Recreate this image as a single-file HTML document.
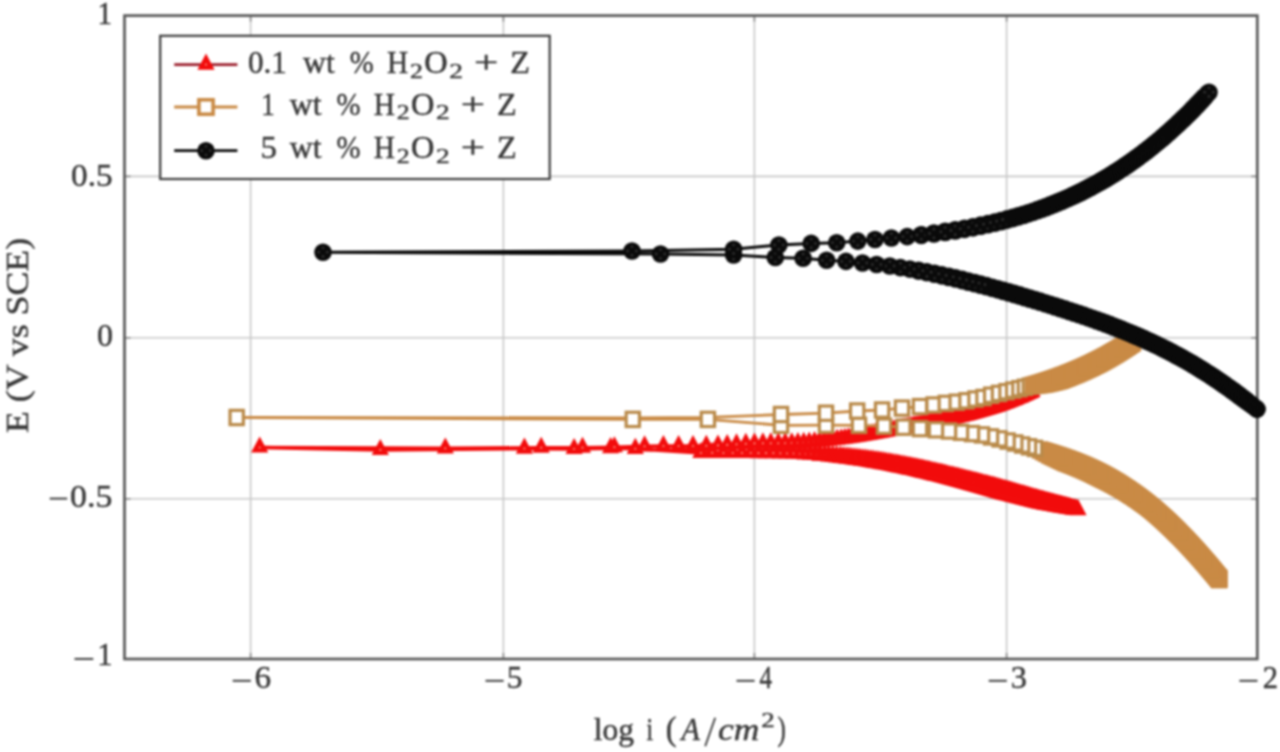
<!DOCTYPE html><html><head><meta charset="utf-8"><title>Polarization curves</title><style>html,body{margin:0;padding:0;background:#fff;overflow:hidden}svg{display:block;filter:blur(0.8px)}text{font-family:"Liberation Serif",serif;fill:#383838;stroke:#383838;stroke-width:0.45px}</style></head><body><svg width="1280" height="752" viewBox="0 0 1280 752"><defs><g id="tri"><path d="M0,-11L8.6,5.1L-8.6,5.1Z" fill="#f20c0c"/><circle r="1.1" fill="#ff8a7a"/></g><g id="sqf"><rect x="-6.65" y="-7.15" width="13.3" height="14.3" fill="#fff" stroke="#b98a4a" stroke-width="3.2"/></g><g id="sql"><rect x="-7.1" y="-7.2" width="14.2" height="14.4" fill="#fff" stroke="#c98a45" stroke-width="3.6"/></g><g id="tris"><path d="M0,-11L8.6,5.1L-8.6,5.1Z" fill="#f20c0c"/></g><g id="sqs"><rect x="-8.25" y="-8.75" width="16.5" height="17.5" fill="#c98a45"/></g><g id="cir"><circle r="8.8" fill="#0a0a0a"/><g fill="#303030"><circle cx="0" cy="-4.3" r="1.4"/><circle cx="0" cy="4.3" r="1.4"/><circle cx="-4.3" cy="0" r="1.4"/><circle cx="4.3" cy="0" r="1.4"/></g></g><g id="cird"><circle r="8.8" fill="#0a0a0a"/></g></defs><rect width="1280" height="752" fill="#fff"/><g stroke="#c8c8c8" stroke-width="1.6"><line x1="250.6" y1="15.6" x2="250.6" y2="659.0"/><line x1="503.4" y1="15.6" x2="503.4" y2="659.0"/><line x1="754.4" y1="15.6" x2="754.4" y2="659.0"/><line x1="1006.6" y1="15.6" x2="1006.6" y2="659.0"/><line x1="124.5" y1="176.4" x2="1257.3" y2="176.4"/><line x1="124.5" y1="337.8" x2="1257.3" y2="337.8"/><line x1="124.5" y1="498.8" x2="1257.3" y2="498.8"/></g><g stroke="#8a8a8a" stroke-width="1.6"><line x1="250.6" y1="659.0" x2="250.6" y2="653.0"/><line x1="250.6" y1="15.6" x2="250.6" y2="21.6"/><line x1="503.4" y1="659.0" x2="503.4" y2="653.0"/><line x1="503.4" y1="15.6" x2="503.4" y2="21.6"/><line x1="754.4" y1="659.0" x2="754.4" y2="653.0"/><line x1="754.4" y1="15.6" x2="754.4" y2="21.6"/><line x1="1006.6" y1="659.0" x2="1006.6" y2="653.0"/><line x1="1006.6" y1="15.6" x2="1006.6" y2="21.6"/><line x1="124.5" y1="176.4" x2="130.5" y2="176.4"/><line x1="1257.3" y1="176.4" x2="1251.3" y2="176.4"/><line x1="124.5" y1="337.8" x2="130.5" y2="337.8"/><line x1="1257.3" y1="337.8" x2="1251.3" y2="337.8"/><line x1="124.5" y1="498.8" x2="130.5" y2="498.8"/><line x1="1257.3" y1="498.8" x2="1251.3" y2="498.8"/></g><rect x="124.5" y="15.6" width="1132.8" height="643.4" fill="none" stroke="#585858" stroke-width="2.7"/><polyline points="1078.0,510.1 1077.2,510.0 1075.7,509.6 1074.2,509.3 1072.8,508.9 1071.3,508.6 1069.8,508.2 1068.3,507.9 1066.8,507.5 1065.3,507.1 1063.8,506.8 1062.3,506.4 1060.8,506.0 1059.3,505.7 1057.7,505.3 1056.2,504.9 1054.7,504.5 1053.1,504.1 1051.6,503.7 1050.1,503.3 1048.5,503.0 1047.0,502.6 1045.4,502.2 1043.8,501.8 1042.3,501.4 1040.7,501.0 1039.1,500.5 1037.5,500.1 1036.0,499.7 1034.4,499.3 1032.8,498.9 1031.2,498.5 1029.6,498.1 1028.0,497.6 1026.4,497.2 1024.7,496.8 1023.1,496.4 1021.5,495.9 1019.9,495.5 1018.2,495.1 1016.6,494.6 1014.9,494.2 1013.3,493.7 1011.6,493.3 1010.0,492.9 1008.3,492.4 1006.6,492.0 1005.0,491.5 1003.3,491.1 1001.6,490.6 999.9,490.2 998.2,489.7 996.5,489.3 994.8,488.8 993.1,488.4 991.4,487.9 989.7,487.5 987.9,487.0 986.2,486.6 984.5,486.1 982.7,485.6 981.0,485.2 979.2,484.7 977.5,484.3 975.7,483.8 973.9,483.3 972.1,482.9 970.4,482.4 968.6,482.0 966.8,481.5 965.0,481.0 963.2,480.6 961.4,480.1 959.5,479.7 957.7,479.2 955.9,478.7 954.0,478.3 952.2,477.8 950.3,477.4 948.5,476.9 946.6,476.5 944.8,476.0 942.9,475.6 941.0,475.1 939.1,474.7 937.2,474.2 935.3,473.8 933.4,473.3 931.5,472.9 929.6,472.4 927.7,472.0 925.7,471.6 923.8,471.1 921.9,470.7 919.9,470.3 918.0,469.9 916.0,469.4 914.0,469.0 911.9,468.6 909.8,468.2 907.7,467.7 905.6,467.3 903.4,466.9 901.2,466.4 899.0,466.0 896.7,465.6 894.4,465.2 892.1,464.7 889.7,464.3 887.3,463.9 884.9,463.5 882.4,463.1 879.9,462.6 877.4,462.2 874.8,461.8 872.2,461.4 869.5,461.0 866.8,460.6 864.1,460.2 861.3,459.8 858.5,459.5 855.6,459.1 852.7,458.7 849.8,458.3 846.8,458.0 843.6,457.6 840.3,457.3 836.7,456.9 832.9,456.5 828.9,456.1 824.7,455.7 820.1,455.4 815.4,455.0 810.3,454.6 804.9,454.3 799.2,454.0 793.2,453.7 786.9,453.5 780.2,453.3 773.3,453.1 766.0,453.1 758.4,453.2 750.7,453.0 742.0,453.0 732.7,453.0 723.4,453.0 712.2,452.8 700.9,453.0 635.3,448.8 610.6,448.1 574.1,449.0 524.4,448.6 380.3,449.9 259.7,447.5 445.3,448.4 541.2,447.7 582.5,447.7 614.4,447.2 644.6,446.3 663.4,446.0 678.6,446.0 693.0,446.0 706.3,445.8 718.0,445.4 727.2,444.9 736.5,444.3 745.8,443.8 754.5,443.4 762.9,443.3 770.8,443.3 778.3,443.3 785.2,443.3 791.8,443.2 797.9,443.0 803.7,442.8 809.2,442.5 814.5,442.1 819.5,441.7 824.3,441.2 828.8,440.7 833.1,440.2 837.2,439.7 841.2,439.2 844.9,438.7 848.4,438.2 851.8,437.6 855.0,437.1 858.1,436.7 861.0,436.2 863.9,435.7 866.8,435.2 869.7,434.7 872.5,434.2 875.2,433.7 878.0,433.2 880.7,432.7 883.3,432.2 886.0,431.7 888.6,431.2 891.1,430.7 893.7,430.2 896.2,429.8 898.6,429.3 901.1,428.8 903.5,428.3 905.9,427.9 908.2,427.4 910.6,427.0 912.9,426.5 915.2,426.1 917.4,425.7 919.6,425.2 921.8,424.8 924.0,424.4 926.1,424.0 928.2,423.6 930.3,423.2 932.4,422.8 934.4,422.4 936.4,422.0 938.4,421.6 940.4,421.2 942.3,420.8 944.3,420.4 946.2,420.0 948.1,419.6 950.0,419.1 951.9,418.7 953.8,418.3 955.7,417.9 957.6,417.5 959.4,417.0 961.3,416.6 963.1,416.2 964.9,415.7 966.7,415.3 968.5,414.8 970.3,414.4 972.1,413.9 973.9,413.4 975.7,413.0 977.4,412.5 979.2,412.0 980.9,411.5 982.6,411.0 984.3,410.5 986.0,410.0 987.7,409.5 989.4,409.0 991.0,408.5 992.7,407.9 994.3,407.4 996.0,406.8 997.6,406.3 999.2,405.7 1000.8,405.2 1002.4,404.6 1004.0,404.0 1005.6,403.4 1007.1,402.8 1008.7,402.2 1010.2,401.6 1011.7,401.0 1013.3,400.4 1014.8,399.8 1016.3,399.2 1017.8,398.5 1019.2,397.9 1020.7,397.3 1022.2,396.6 1023.6,395.9 1025.0,395.3 1026.5,394.6 1027.9,393.9 1029.3,393.3 1030.7,392.6 1032.0,391.9" fill="none" stroke="#f20c0c" stroke-width="3.6" stroke-linejoin="round" stroke-linecap="round"/><use href="#tris" x="815.4" y="454.8"/><use href="#tris" x="820.1" y="455.6"/><use href="#tris" x="820.1" y="455.1"/><use href="#tris" x="824.7" y="456.0"/><use href="#tris" x="824.7" y="455.4"/><use href="#tris" x="828.9" y="456.5"/><use href="#tris" x="828.9" y="455.7"/><use href="#tris" x="832.9" y="456.9"/><use href="#tris" x="832.9" y="456.0"/><use href="#tris" x="836.7" y="457.3"/><use href="#tris" x="836.7" y="456.3"/><use href="#tris" x="840.3" y="457.8"/><use href="#tris" x="840.3" y="456.6"/><use href="#tris" x="843.6" y="458.2"/><use href="#tris" x="843.6" y="457.0"/><use href="#tris" x="846.8" y="458.6"/><use href="#tris" x="846.8" y="457.3"/><use href="#tris" x="849.8" y="459.0"/><use href="#tris" x="849.8" y="457.6"/><use href="#tris" x="852.7" y="459.4"/><use href="#tris" x="852.7" y="457.9"/><use href="#tris" x="855.6" y="459.8"/><use href="#tris" x="855.6" y="458.2"/><use href="#tris" x="858.5" y="460.2"/><use href="#tris" x="858.5" y="458.6"/><use href="#tris" x="861.3" y="460.6"/><use href="#tris" x="861.3" y="458.9"/><use href="#tris" x="864.1" y="461.0"/><use href="#tris" x="864.1" y="459.3"/><use href="#tris" x="866.8" y="461.5"/><use href="#tris" x="866.8" y="459.6"/><use href="#tris" x="869.5" y="461.9"/><use href="#tris" x="869.5" y="460.0"/><use href="#tris" x="872.2" y="462.3"/><use href="#tris" x="872.2" y="460.3"/><use href="#tris" x="874.8" y="462.8"/><use href="#tris" x="874.8" y="460.7"/><use href="#tris" x="877.4" y="463.2"/><use href="#tris" x="877.4" y="461.1"/><use href="#tris" x="879.9" y="463.6"/><use href="#tris" x="879.9" y="461.4"/><use href="#tris" x="882.4" y="464.1"/><use href="#tris" x="882.4" y="461.8"/><use href="#tris" x="884.9" y="464.5"/><use href="#tris" x="884.9" y="462.2"/><use href="#tris" x="887.3" y="465.0"/><use href="#tris" x="887.3" y="462.7"/><use href="#tris" x="889.7" y="465.4"/><use href="#tris" x="889.7" y="463.1"/><use href="#tris" x="892.1" y="465.9"/><use href="#tris" x="892.1" y="463.5"/><use href="#tris" x="894.4" y="466.4"/><use href="#tris" x="894.4" y="463.9"/><use href="#tris" x="896.7" y="466.8"/><use href="#tris" x="896.7" y="464.3"/><use href="#tris" x="899.0" y="467.3"/><use href="#tris" x="899.0" y="464.7"/><use href="#tris" x="901.2" y="467.7"/><use href="#tris" x="901.2" y="465.2"/><use href="#tris" x="903.4" y="468.2"/><use href="#tris" x="903.4" y="465.6"/><use href="#tris" x="905.6" y="468.7"/><use href="#tris" x="905.6" y="466.0"/><use href="#tris" x="907.7" y="469.1"/><use href="#tris" x="907.7" y="466.4"/><use href="#tris" x="909.8" y="469.6"/><use href="#tris" x="909.8" y="466.8"/><use href="#tris" x="911.9" y="470.0"/><use href="#tris" x="911.9" y="467.2"/><use href="#tris" x="914.0" y="470.5"/><use href="#tris" x="914.0" y="467.7"/><use href="#tris" x="916.0" y="471.0"/><use href="#tris" x="916.0" y="468.1"/><use href="#tris" x="918.0" y="471.4"/><use href="#tris" x="918.0" y="468.5"/><use href="#tris" x="919.9" y="471.9"/><use href="#tris" x="919.9" y="468.9"/><use href="#tris" x="921.9" y="472.3"/><use href="#tris" x="921.9" y="469.3"/><use href="#tris" x="923.8" y="472.8"/><use href="#tris" x="923.8" y="469.8"/><use href="#tris" x="925.7" y="473.2"/><use href="#tris" x="925.7" y="470.2"/><use href="#tris" x="927.7" y="473.7"/><use href="#tris" x="927.7" y="470.6"/><use href="#tris" x="929.6" y="474.2"/><use href="#tris" x="929.6" y="471.0"/><use href="#tris" x="931.5" y="474.6"/><use href="#tris" x="931.5" y="471.5"/><use href="#tris" x="933.4" y="475.1"/><use href="#tris" x="933.4" y="471.9"/><use href="#tris" x="935.3" y="475.6"/><use href="#tris" x="935.3" y="472.3"/><use href="#tris" x="937.2" y="476.0"/><use href="#tris" x="937.2" y="472.8"/><use href="#tris" x="939.1" y="476.5"/><use href="#tris" x="939.1" y="473.2"/><use href="#tris" x="941.0" y="477.0"/><use href="#tris" x="941.0" y="473.6"/><use href="#tris" x="942.9" y="477.5"/><use href="#tris" x="942.9" y="474.1"/><use href="#tris" x="944.8" y="477.9"/><use href="#tris" x="944.8" y="474.5"/><use href="#tris" x="946.6" y="478.4"/><use href="#tris" x="946.6" y="475.0"/><use href="#tris" x="948.5" y="478.9"/><use href="#tris" x="948.5" y="475.4"/><use href="#tris" x="950.3" y="479.4"/><use href="#tris" x="950.3" y="475.9"/><use href="#tris" x="952.2" y="479.9"/><use href="#tris" x="952.2" y="476.3"/><use href="#tris" x="954.0" y="480.4"/><use href="#tris" x="954.0" y="476.8"/><use href="#tris" x="955.9" y="480.9"/><use href="#tris" x="955.9" y="477.2"/><use href="#tris" x="957.7" y="481.4"/><use href="#tris" x="957.7" y="477.6"/><use href="#tris" x="959.5" y="481.9"/><use href="#tris" x="959.5" y="478.1"/><use href="#tris" x="961.4" y="482.4"/><use href="#tris" x="961.4" y="478.5"/><use href="#tris" x="963.2" y="482.9"/><use href="#tris" x="963.2" y="479.0"/><use href="#tris" x="965.0" y="483.4"/><use href="#tris" x="965.0" y="479.4"/><use href="#tris" x="966.8" y="483.9"/><use href="#tris" x="966.8" y="479.9"/><use href="#tris" x="968.6" y="484.4"/><use href="#tris" x="968.6" y="480.3"/><use href="#tris" x="970.4" y="484.9"/><use href="#tris" x="970.4" y="480.8"/><use href="#tris" x="972.1" y="485.4"/><use href="#tris" x="972.1" y="481.2"/><use href="#tris" x="973.9" y="485.9"/><use href="#tris" x="973.9" y="481.7"/><use href="#tris" x="975.7" y="486.4"/><use href="#tris" x="975.7" y="482.1"/><use href="#tris" x="977.5" y="486.9"/><use href="#tris" x="977.5" y="482.6"/><use href="#tris" x="979.2" y="487.4"/><use href="#tris" x="979.2" y="483.0"/><use href="#tris" x="981.0" y="487.9"/><use href="#tris" x="981.0" y="483.5"/><use href="#tris" x="982.7" y="488.4"/><use href="#tris" x="982.7" y="483.9"/><use href="#tris" x="984.5" y="488.9"/><use href="#tris" x="984.5" y="484.4"/><use href="#tris" x="986.2" y="489.4"/><use href="#tris" x="986.2" y="484.8"/><use href="#tris" x="987.9" y="489.9"/><use href="#tris" x="987.9" y="485.3"/><use href="#tris" x="989.7" y="490.4"/><use href="#tris" x="989.7" y="485.7"/><use href="#tris" x="991.4" y="490.9"/><use href="#tris" x="991.4" y="486.2"/><use href="#tris" x="993.1" y="491.4"/><use href="#tris" x="993.1" y="486.6"/><use href="#tris" x="994.8" y="491.9"/><use href="#tris" x="994.8" y="487.1"/><use href="#tris" x="996.5" y="492.4"/><use href="#tris" x="996.5" y="487.5"/><use href="#tris" x="998.2" y="492.9"/><use href="#tris" x="998.2" y="487.9"/><use href="#tris" x="999.9" y="493.4"/><use href="#tris" x="999.9" y="488.4"/><use href="#tris" x="1001.6" y="493.8"/><use href="#tris" x="1001.6" y="488.9"/><use href="#tris" x="1003.3" y="494.3"/><use href="#tris" x="1003.3" y="489.4"/><use href="#tris" x="1005.0" y="494.7"/><use href="#tris" x="1005.0" y="489.9"/><use href="#tris" x="1006.6" y="495.1"/><use href="#tris" x="1006.6" y="490.3"/><use href="#tris" x="1008.3" y="495.5"/><use href="#tris" x="1008.3" y="490.8"/><use href="#tris" x="1010.0" y="496.0"/><use href="#tris" x="1010.0" y="491.3"/><use href="#tris" x="1011.6" y="496.4"/><use href="#tris" x="1011.6" y="491.8"/><use href="#tris" x="1013.3" y="496.8"/><use href="#tris" x="1013.3" y="492.3"/><use href="#tris" x="1014.9" y="497.2"/><use href="#tris" x="1014.9" y="492.8"/><use href="#tris" x="1016.6" y="497.7"/><use href="#tris" x="1016.6" y="493.2"/><use href="#tris" x="1018.2" y="498.1"/><use href="#tris" x="1018.2" y="493.7"/><use href="#tris" x="1019.9" y="498.5"/><use href="#tris" x="1019.9" y="494.2"/><use href="#tris" x="1021.5" y="498.9"/><use href="#tris" x="1021.5" y="494.7"/><use href="#tris" x="1023.1" y="499.3"/><use href="#tris" x="1023.1" y="495.1"/><use href="#tris" x="1024.7" y="499.7"/><use href="#tris" x="1024.7" y="495.6"/><use href="#tris" x="1026.4" y="500.1"/><use href="#tris" x="1026.4" y="496.1"/><use href="#tris" x="1028.0" y="500.6"/><use href="#tris" x="1028.0" y="496.5"/><use href="#tris" x="1029.6" y="501.0"/><use href="#tris" x="1029.6" y="497.0"/><use href="#tris" x="1031.2" y="501.4"/><use href="#tris" x="1031.2" y="497.5"/><use href="#tris" x="1032.8" y="501.8"/><use href="#tris" x="1032.8" y="497.9"/><use href="#tris" x="1034.4" y="502.2"/><use href="#tris" x="1034.4" y="498.4"/><use href="#tris" x="1036.0" y="502.6"/><use href="#tris" x="1036.0" y="498.8"/><use href="#tris" x="1037.5" y="503.0"/><use href="#tris" x="1037.5" y="499.3"/><use href="#tris" x="1039.1" y="503.4"/><use href="#tris" x="1039.1" y="499.7"/><use href="#tris" x="1040.7" y="503.7"/><use href="#tris" x="1040.7" y="500.2"/><use href="#tris" x="1042.3" y="504.0"/><use href="#tris" x="1042.3" y="500.6"/><use href="#tris" x="1043.8" y="504.3"/><use href="#tris" x="1043.8" y="501.0"/><use href="#tris" x="1045.4" y="504.6"/><use href="#tris" x="1045.4" y="501.5"/><use href="#tris" x="1047.0" y="504.9"/><use href="#tris" x="1047.0" y="501.9"/><use href="#tris" x="1048.5" y="505.1"/><use href="#tris" x="1048.5" y="502.3"/><use href="#tris" x="1050.1" y="505.4"/><use href="#tris" x="1050.1" y="502.7"/><use href="#tris" x="1051.6" y="505.7"/><use href="#tris" x="1051.6" y="503.2"/><use href="#tris" x="1053.1" y="506.0"/><use href="#tris" x="1053.1" y="503.6"/><use href="#tris" x="1054.7" y="506.3"/><use href="#tris" x="1054.7" y="504.0"/><use href="#tris" x="1056.2" y="506.5"/><use href="#tris" x="1056.2" y="504.4"/><use href="#tris" x="1057.7" y="506.8"/><use href="#tris" x="1057.7" y="504.8"/><use href="#tris" x="1059.3" y="507.1"/><use href="#tris" x="1059.3" y="505.2"/><use href="#tris" x="1060.8" y="507.3"/><use href="#tris" x="1060.8" y="505.6"/><use href="#tris" x="1062.3" y="507.6"/><use href="#tris" x="1062.3" y="506.0"/><use href="#tris" x="1063.8" y="507.9"/><use href="#tris" x="1063.8" y="506.4"/><use href="#tris" x="1065.3" y="508.1"/><use href="#tris" x="1065.3" y="506.8"/><use href="#tris" x="1066.8" y="508.4"/><use href="#tris" x="1066.8" y="507.2"/><use href="#tris" x="1068.3" y="508.6"/><use href="#tris" x="1068.3" y="507.6"/><use href="#tris" x="1069.8" y="508.9"/><use href="#tris" x="1069.8" y="508.0"/><use href="#tris" x="1071.3" y="509.1"/><use href="#tris" x="1072.8" y="509.4"/><use href="#tris" x="1074.2" y="509.7"/><use href="#tris" x="1075.7" y="509.9"/><use href="#tri" x="1078.0" y="510.1"/><use href="#tri" x="1077.2" y="510.0"/><use href="#tri" x="1075.7" y="509.6"/><use href="#tri" x="1074.2" y="509.3"/><use href="#tri" x="1072.8" y="508.9"/><use href="#tri" x="1071.3" y="508.6"/><use href="#tri" x="1069.8" y="508.2"/><use href="#tri" x="1068.3" y="507.9"/><use href="#tri" x="1066.8" y="507.5"/><use href="#tri" x="1065.3" y="507.1"/><use href="#tri" x="1063.8" y="506.8"/><use href="#tri" x="1062.3" y="506.4"/><use href="#tri" x="1060.8" y="506.0"/><use href="#tri" x="1059.3" y="505.7"/><use href="#tri" x="1057.7" y="505.3"/><use href="#tri" x="1056.2" y="504.9"/><use href="#tri" x="1054.7" y="504.5"/><use href="#tri" x="1053.1" y="504.1"/><use href="#tri" x="1051.6" y="503.7"/><use href="#tri" x="1050.1" y="503.3"/><use href="#tri" x="1048.5" y="503.0"/><use href="#tri" x="1047.0" y="502.6"/><use href="#tri" x="1045.4" y="502.2"/><use href="#tri" x="1043.8" y="501.8"/><use href="#tri" x="1042.3" y="501.4"/><use href="#tri" x="1040.7" y="501.0"/><use href="#tri" x="1039.1" y="500.5"/><use href="#tri" x="1037.5" y="500.1"/><use href="#tri" x="1036.0" y="499.7"/><use href="#tri" x="1034.4" y="499.3"/><use href="#tri" x="1032.8" y="498.9"/><use href="#tri" x="1031.2" y="498.5"/><use href="#tri" x="1029.6" y="498.1"/><use href="#tri" x="1028.0" y="497.6"/><use href="#tri" x="1026.4" y="497.2"/><use href="#tri" x="1024.7" y="496.8"/><use href="#tri" x="1023.1" y="496.4"/><use href="#tri" x="1021.5" y="495.9"/><use href="#tri" x="1019.9" y="495.5"/><use href="#tri" x="1018.2" y="495.1"/><use href="#tri" x="1016.6" y="494.6"/><use href="#tri" x="1014.9" y="494.2"/><use href="#tri" x="1013.3" y="493.7"/><use href="#tri" x="1011.6" y="493.3"/><use href="#tri" x="1010.0" y="492.9"/><use href="#tri" x="1008.3" y="492.4"/><use href="#tri" x="1006.6" y="492.0"/><use href="#tri" x="1005.0" y="491.5"/><use href="#tri" x="1003.3" y="491.1"/><use href="#tri" x="1001.6" y="490.6"/><use href="#tri" x="999.9" y="490.2"/><use href="#tri" x="998.2" y="489.7"/><use href="#tri" x="996.5" y="489.3"/><use href="#tri" x="994.8" y="488.8"/><use href="#tri" x="993.1" y="488.4"/><use href="#tri" x="991.4" y="487.9"/><use href="#tri" x="989.7" y="487.5"/><use href="#tri" x="987.9" y="487.0"/><use href="#tri" x="986.2" y="486.6"/><use href="#tri" x="984.5" y="486.1"/><use href="#tri" x="982.7" y="485.6"/><use href="#tri" x="981.0" y="485.2"/><use href="#tri" x="979.2" y="484.7"/><use href="#tri" x="977.5" y="484.3"/><use href="#tri" x="975.7" y="483.8"/><use href="#tri" x="973.9" y="483.3"/><use href="#tri" x="972.1" y="482.9"/><use href="#tri" x="970.4" y="482.4"/><use href="#tri" x="968.6" y="482.0"/><use href="#tri" x="966.8" y="481.5"/><use href="#tri" x="965.0" y="481.0"/><use href="#tri" x="963.2" y="480.6"/><use href="#tri" x="961.4" y="480.1"/><use href="#tri" x="959.5" y="479.7"/><use href="#tri" x="957.7" y="479.2"/><use href="#tri" x="955.9" y="478.7"/><use href="#tri" x="954.0" y="478.3"/><use href="#tri" x="952.2" y="477.8"/><use href="#tri" x="950.3" y="477.4"/><use href="#tri" x="948.5" y="476.9"/><use href="#tri" x="946.6" y="476.5"/><use href="#tri" x="944.8" y="476.0"/><use href="#tri" x="942.9" y="475.6"/><use href="#tri" x="941.0" y="475.1"/><use href="#tri" x="939.1" y="474.7"/><use href="#tri" x="937.2" y="474.2"/><use href="#tri" x="935.3" y="473.8"/><use href="#tri" x="933.4" y="473.3"/><use href="#tri" x="931.5" y="472.9"/><use href="#tri" x="929.6" y="472.4"/><use href="#tri" x="927.7" y="472.0"/><use href="#tri" x="925.7" y="471.6"/><use href="#tri" x="923.8" y="471.1"/><use href="#tri" x="921.9" y="470.7"/><use href="#tri" x="919.9" y="470.3"/><use href="#tri" x="918.0" y="469.9"/><use href="#tri" x="916.0" y="469.4"/><use href="#tri" x="914.0" y="469.0"/><use href="#tri" x="911.9" y="468.6"/><use href="#tri" x="909.8" y="468.2"/><use href="#tri" x="907.7" y="467.7"/><use href="#tri" x="905.6" y="467.3"/><use href="#tri" x="903.4" y="466.9"/><use href="#tri" x="901.2" y="466.4"/><use href="#tri" x="899.0" y="466.0"/><use href="#tri" x="896.7" y="465.6"/><use href="#tri" x="894.4" y="465.2"/><use href="#tri" x="892.1" y="464.7"/><use href="#tri" x="889.7" y="464.3"/><use href="#tri" x="887.3" y="463.9"/><use href="#tri" x="884.9" y="463.5"/><use href="#tri" x="882.4" y="463.1"/><use href="#tri" x="879.9" y="462.6"/><use href="#tri" x="877.4" y="462.2"/><use href="#tri" x="874.8" y="461.8"/><use href="#tri" x="872.2" y="461.4"/><use href="#tri" x="869.5" y="461.0"/><use href="#tri" x="866.8" y="460.6"/><use href="#tri" x="864.1" y="460.2"/><use href="#tri" x="861.3" y="459.8"/><use href="#tri" x="858.5" y="459.5"/><use href="#tri" x="855.6" y="459.1"/><use href="#tri" x="852.7" y="458.7"/><use href="#tri" x="849.8" y="458.3"/><use href="#tri" x="846.8" y="458.0"/><use href="#tri" x="843.6" y="457.6"/><use href="#tri" x="840.3" y="457.3"/><use href="#tri" x="836.7" y="456.9"/><use href="#tri" x="832.9" y="456.5"/><use href="#tri" x="828.9" y="456.1"/><use href="#tri" x="824.7" y="455.7"/><use href="#tri" x="820.1" y="455.4"/><use href="#tri" x="815.4" y="455.0"/><use href="#tri" x="810.3" y="454.6"/><use href="#tri" x="804.9" y="454.3"/><use href="#tri" x="799.2" y="454.0"/><use href="#tri" x="793.2" y="453.7"/><use href="#tri" x="786.9" y="453.5"/><use href="#tri" x="780.2" y="453.3"/><use href="#tri" x="773.3" y="453.1"/><use href="#tri" x="766.0" y="453.1"/><use href="#tri" x="758.4" y="453.2"/><use href="#tri" x="750.7" y="453.0"/><use href="#tri" x="742.0" y="453.0"/><use href="#tri" x="732.7" y="453.0"/><use href="#tri" x="723.4" y="453.0"/><use href="#tri" x="712.2" y="452.8"/><use href="#tri" x="700.9" y="453.0"/><use href="#tri" x="635.3" y="448.8"/><use href="#tri" x="610.6" y="448.1"/><use href="#tri" x="574.1" y="449.0"/><use href="#tri" x="524.4" y="448.6"/><use href="#tri" x="380.3" y="449.9"/><use href="#tri" x="259.7" y="447.5"/><use href="#tri" x="445.3" y="448.4"/><use href="#tri" x="541.2" y="447.7"/><use href="#tri" x="582.5" y="447.7"/><use href="#tri" x="614.4" y="447.2"/><use href="#tri" x="644.6" y="446.3"/><use href="#tri" x="663.4" y="446.0"/><use href="#tri" x="678.6" y="446.0"/><use href="#tri" x="693.0" y="446.0"/><use href="#tri" x="706.3" y="445.8"/><use href="#tri" x="718.0" y="445.4"/><use href="#tri" x="727.2" y="444.9"/><use href="#tri" x="736.5" y="444.3"/><use href="#tri" x="745.8" y="443.8"/><use href="#tri" x="754.5" y="443.4"/><use href="#tri" x="762.9" y="443.3"/><use href="#tri" x="770.8" y="443.3"/><use href="#tri" x="778.3" y="443.3"/><use href="#tri" x="785.2" y="443.3"/><use href="#tri" x="791.8" y="443.2"/><use href="#tri" x="797.9" y="443.0"/><use href="#tri" x="803.7" y="442.8"/><use href="#tri" x="809.2" y="442.5"/><use href="#tri" x="814.5" y="442.1"/><use href="#tri" x="819.5" y="441.7"/><use href="#tri" x="824.3" y="441.2"/><use href="#tri" x="828.8" y="440.7"/><use href="#tri" x="833.1" y="440.2"/><use href="#tri" x="837.2" y="439.7"/><use href="#tri" x="841.2" y="439.2"/><use href="#tri" x="844.9" y="438.7"/><use href="#tri" x="848.4" y="438.2"/><use href="#tri" x="851.8" y="437.6"/><use href="#tri" x="855.0" y="437.1"/><use href="#tri" x="858.1" y="436.7"/><use href="#tri" x="861.0" y="436.2"/><use href="#tri" x="863.9" y="435.7"/><use href="#tri" x="866.8" y="435.2"/><use href="#tri" x="869.7" y="434.7"/><use href="#tri" x="872.5" y="434.2"/><use href="#tri" x="875.2" y="433.7"/><use href="#tri" x="878.0" y="433.2"/><use href="#tri" x="880.7" y="432.7"/><use href="#tri" x="883.3" y="432.2"/><use href="#tri" x="886.0" y="431.7"/><use href="#tri" x="888.6" y="431.2"/><use href="#tri" x="891.1" y="430.7"/><use href="#tri" x="893.7" y="430.2"/><use href="#tri" x="896.2" y="429.8"/><use href="#tri" x="898.6" y="429.3"/><use href="#tri" x="901.1" y="428.8"/><use href="#tri" x="903.5" y="428.3"/><use href="#tri" x="905.9" y="427.9"/><use href="#tri" x="908.2" y="427.4"/><use href="#tri" x="910.6" y="427.0"/><use href="#tri" x="912.9" y="426.5"/><use href="#tri" x="915.2" y="426.1"/><use href="#tri" x="917.4" y="425.7"/><use href="#tri" x="919.6" y="425.2"/><use href="#tri" x="921.8" y="424.8"/><use href="#tri" x="924.0" y="424.4"/><use href="#tri" x="926.1" y="424.0"/><use href="#tri" x="928.2" y="423.6"/><use href="#tri" x="930.3" y="423.2"/><use href="#tri" x="932.4" y="422.8"/><use href="#tri" x="934.4" y="422.4"/><use href="#tri" x="936.4" y="422.0"/><use href="#tri" x="938.4" y="421.6"/><use href="#tri" x="940.4" y="421.2"/><use href="#tri" x="942.3" y="420.8"/><use href="#tri" x="944.3" y="420.4"/><use href="#tri" x="946.2" y="420.0"/><use href="#tri" x="948.1" y="419.6"/><use href="#tri" x="950.0" y="419.1"/><use href="#tri" x="951.9" y="418.7"/><use href="#tri" x="953.8" y="418.3"/><use href="#tri" x="955.7" y="417.9"/><use href="#tri" x="957.6" y="417.5"/><use href="#tri" x="959.4" y="417.0"/><use href="#tri" x="961.3" y="416.6"/><use href="#tri" x="963.1" y="416.2"/><use href="#tri" x="964.9" y="415.7"/><use href="#tri" x="966.7" y="415.3"/><use href="#tri" x="968.5" y="414.8"/><use href="#tri" x="970.3" y="414.4"/><use href="#tri" x="972.1" y="413.9"/><use href="#tri" x="973.9" y="413.4"/><use href="#tri" x="975.7" y="413.0"/><use href="#tri" x="977.4" y="412.5"/><use href="#tri" x="979.2" y="412.0"/><use href="#tri" x="980.9" y="411.5"/><use href="#tri" x="982.6" y="411.0"/><use href="#tri" x="984.3" y="410.5"/><use href="#tri" x="986.0" y="410.0"/><use href="#tri" x="987.7" y="409.5"/><use href="#tri" x="989.4" y="409.0"/><use href="#tri" x="991.0" y="408.5"/><use href="#tri" x="992.7" y="407.9"/><use href="#tri" x="994.3" y="407.4"/><use href="#tri" x="996.0" y="406.8"/><use href="#tri" x="997.6" y="406.3"/><use href="#tri" x="999.2" y="405.7"/><use href="#tri" x="1000.8" y="405.2"/><use href="#tri" x="1002.4" y="404.6"/><use href="#tri" x="1004.0" y="404.0"/><use href="#tri" x="1005.6" y="403.4"/><use href="#tri" x="1007.1" y="402.8"/><use href="#tri" x="1008.7" y="402.2"/><use href="#tri" x="1010.2" y="401.6"/><use href="#tri" x="1011.7" y="401.0"/><use href="#tri" x="1013.3" y="400.4"/><use href="#tri" x="1014.8" y="399.8"/><use href="#tri" x="1016.3" y="399.2"/><use href="#tri" x="1017.8" y="398.5"/><use href="#tri" x="1019.2" y="397.9"/><use href="#tri" x="1020.7" y="397.3"/><use href="#tri" x="1022.2" y="396.6"/><use href="#tri" x="1023.6" y="395.9"/><use href="#tri" x="1025.0" y="395.3"/><use href="#tri" x="1026.5" y="394.6"/><use href="#tri" x="1027.9" y="393.9"/><use href="#tri" x="1029.3" y="393.3"/><use href="#tri" x="1030.7" y="392.6"/><use href="#tri" x="1032.0" y="391.9"/><polyline points="1219.3,578.6 1219.0,578.3 1218.3,577.4 1217.5,576.5 1216.8,575.6 1216.1,574.7 1215.3,573.8 1214.6,572.9 1213.8,572.0 1213.1,571.0 1212.3,570.1 1211.5,569.2 1210.8,568.3 1210.0,567.4 1209.3,566.5 1208.5,565.6 1207.7,564.7 1207.0,563.8 1206.2,562.9 1205.4,562.0 1204.6,561.1 1203.8,560.2 1203.0,559.3 1202.3,558.4 1201.5,557.5 1200.7,556.6 1199.9,555.7 1199.1,554.8 1198.3,553.9 1197.5,552.9 1196.7,552.0 1195.8,551.1 1195.0,550.2 1194.2,549.3 1193.4,548.4 1192.6,547.5 1191.7,546.6 1190.9,545.7 1190.1,544.8 1189.2,543.9 1188.4,543.0 1187.5,542.1 1186.7,541.2 1185.8,540.3 1185.0,539.4 1184.1,538.5 1183.2,537.6 1182.4,536.7 1181.5,535.8 1180.6,534.9 1179.7,534.0 1178.8,533.1 1177.9,532.1 1177.0,531.2 1176.1,530.3 1175.2,529.4 1174.3,528.5 1173.4,527.6 1172.5,526.7 1171.5,525.8 1170.6,524.9 1169.7,524.0 1168.7,523.1 1167.8,522.2 1166.8,521.3 1165.8,520.4 1164.9,519.5 1163.9,518.6 1162.9,517.7 1161.9,516.8 1160.9,515.9 1159.9,515.0 1158.9,514.1 1157.8,513.2 1156.8,512.2 1155.7,511.3 1154.7,510.4 1153.6,509.5 1152.6,508.6 1151.5,507.7 1150.4,506.8 1149.3,505.9 1148.2,505.0 1147.1,504.1 1146.0,503.2 1144.8,502.3 1143.7,501.4 1142.5,500.5 1141.3,499.6 1140.2,498.7 1139.0,497.8 1137.8,496.9 1136.5,496.0 1135.3,495.1 1134.1,494.2 1132.8,493.3 1131.5,492.4 1130.2,491.5 1128.9,490.6 1127.6,489.7 1126.3,488.8 1124.9,487.9 1123.5,487.0 1122.2,486.1 1120.8,485.2 1119.3,484.2 1117.9,483.3 1116.4,482.4 1115.0,481.5 1113.4,480.6 1111.9,479.7 1110.4,478.8 1108.8,477.9 1107.2,477.0 1105.6,476.1 1103.9,475.2 1102.3,474.3 1100.6,473.4 1098.8,472.5 1097.0,471.6 1095.2,470.7 1093.4,469.8 1091.5,468.9 1089.6,468.0 1087.6,467.1 1085.6,466.2 1083.6,465.3 1081.5,464.4 1079.3,463.5 1077.1,462.6 1074.9,461.7 1072.6,460.8 1070.2,459.9 1067.8,459.0 1065.3,458.1 1062.8,457.2 1060.2,456.3 1057.6,455.4 1054.8,454.5 1052.0,453.6 1049.2,452.7 1046.2,451.8 1043.3,450.9 1040.2,450.0 1035.0,448.4 1029.0,446.8 1022.2,445.0 1015.3,443.0 1007.6,441.0 999.5,438.9 991.0,436.9 982.0,434.9 972.0,433.6 961.0,432.3 949.0,431.0 936.0,429.8 920.0,428.6 903.4,427.2 884.0,426.2 859.0,425.3 826.0,425.2 781.0,425.3 707.9,419.4 632.8,419.4 236.7,417.5 632.8,417.9 707.9,417.4 781.0,414.5 826.0,413.2 857.2,411.0 882.1,410.0 902.0,408.1 920.0,406.6 933.6,405.0 945.8,403.4 956.7,402.2 966.5,400.8 975.5,399.0 983.5,397.5 991.2,395.2 999.0,393.4 1006.5,391.7 1013.2,390.1 1019.4,388.7 1024.9,387.3 1029.8,386.1 1033.1,385.2 1036.2,384.3 1039.3,383.4 1042.3,382.5 1045.2,381.6 1048.0,380.7 1050.8,379.8 1053.5,378.9 1056.1,378.0 1058.7,377.1 1061.2,376.2 1063.6,375.3 1066.1,374.4 1068.4,373.5 1070.7,372.6 1073.0,371.7 1075.2,370.8 1077.4,369.9 1079.5,369.0 1081.6,368.1 1083.7,367.2 1085.7,366.3 1087.7,365.4 1089.6,364.5 1091.6,363.6 1093.4,362.7 1095.3,361.8 1097.1,360.9 1099.0,360.0 1100.7,359.1 1102.5,358.2 1104.2,357.3 1105.9,356.4 1107.6,355.5 1109.3,354.6 1110.9,353.6 1112.5,352.7 1114.1,351.8 1115.7,350.9 1117.3,350.0 1118.8,349.1 1120.3,348.2 1121.8,347.3 1123.3,346.4 1124.8,345.5 1126.3,344.6 1127.7,343.7 1129.1,342.8 1130.5,341.9 1131.9,341.0 1133.0,340.3" fill="none" stroke="#c98a45" stroke-width="2.8" stroke-linejoin="round" stroke-linecap="round"/><use href="#sqs" x="1043.3" y="451.7"/><use href="#sqs" x="1046.2" y="453.3"/><use href="#sqs" x="1049.2" y="455.0"/><use href="#sqs" x="1052.0" y="456.4"/><use href="#sqs" x="1054.8" y="457.7"/><use href="#sqs" x="1057.6" y="459.0"/><use href="#sqs" x="1060.2" y="460.2"/><use href="#sqs" x="1062.8" y="461.5"/><use href="#sqs" x="1065.3" y="462.6"/><use href="#sqs" x="1067.8" y="463.5"/><use href="#sqs" x="1070.2" y="464.4"/><use href="#sqs" x="1072.6" y="465.3"/><use href="#sqs" x="1074.9" y="466.2"/><use href="#sqs" x="1077.1" y="467.1"/><use href="#sqs" x="1079.3" y="468.0"/><use href="#sqs" x="1081.5" y="468.9"/><use href="#sqs" x="1083.6" y="469.8"/><use href="#sqs" x="1085.6" y="470.7"/><use href="#sqs" x="1087.6" y="471.6"/><use href="#sqs" x="1089.6" y="472.5"/><use href="#sqs" x="1091.5" y="473.4"/><use href="#sqs" x="1093.4" y="474.3"/><use href="#sqs" x="1095.2" y="475.2"/><use href="#sqs" x="1097.0" y="476.1"/><use href="#sqs" x="1098.8" y="477.0"/><use href="#sqs" x="1100.6" y="477.9"/><use href="#sqs" x="1102.3" y="478.7"/><use href="#sqs" x="1103.9" y="479.5"/><use href="#sqs" x="1105.6" y="480.3"/><use href="#sqs" x="1107.2" y="481.1"/><use href="#sqs" x="1108.8" y="481.9"/><use href="#sqs" x="1110.4" y="482.7"/><use href="#sqs" x="1111.9" y="483.5"/><use href="#sqs" x="1113.4" y="484.3"/><use href="#sqs" x="1115.0" y="485.1"/><use href="#sqs" x="1116.4" y="486.0"/><use href="#sqs" x="1117.9" y="486.8"/><use href="#sqs" x="1119.3" y="487.6"/><use href="#sqs" x="1120.8" y="488.4"/><use href="#sqs" x="1122.2" y="489.2"/><use href="#sqs" x="1123.5" y="490.0"/><use href="#sqs" x="1124.9" y="490.9"/><use href="#sqs" x="1126.3" y="491.7"/><use href="#sqs" x="1127.6" y="492.5"/><use href="#sqs" x="1128.9" y="493.3"/><use href="#sqs" x="1130.2" y="494.2"/><use href="#sqs" x="1131.5" y="495.0"/><use href="#sqs" x="1132.8" y="495.8"/><use href="#sqs" x="1134.1" y="496.6"/><use href="#sqs" x="1135.3" y="497.5"/><use href="#sqs" x="1136.5" y="498.3"/><use href="#sqs" x="1137.8" y="499.1"/><use href="#sqs" x="1139.0" y="500.0"/><use href="#sqs" x="1140.2" y="500.8"/><use href="#sqs" x="1141.3" y="501.6"/><use href="#sqs" x="1142.5" y="502.5"/><use href="#sqs" x="1143.7" y="503.3"/><use href="#sqs" x="1144.8" y="504.1"/><use href="#sqs" x="1146.0" y="505.0"/><use href="#sqs" x="1147.1" y="505.8"/><use href="#sqs" x="1148.2" y="506.6"/><use href="#sqs" x="1149.3" y="507.5"/><use href="#sqs" x="1150.4" y="508.3"/><use href="#sqs" x="1151.5" y="509.2"/><use href="#sqs" x="1152.6" y="510.1"/><use href="#sqs" x="1153.6" y="511.0"/><use href="#sqs" x="1154.7" y="511.9"/><use href="#sqs" x="1155.7" y="512.8"/><use href="#sqs" x="1156.8" y="513.7"/><use href="#sqs" x="1157.8" y="514.6"/><use href="#sqs" x="1158.9" y="515.5"/><use href="#sqs" x="1159.9" y="516.4"/><use href="#sqs" x="1160.9" y="517.3"/><use href="#sqs" x="1161.9" y="518.2"/><use href="#sqs" x="1162.9" y="519.1"/><use href="#sqs" x="1163.9" y="520.0"/><use href="#sqs" x="1164.9" y="520.9"/><use href="#sqs" x="1165.8" y="521.8"/><use href="#sqs" x="1166.8" y="522.7"/><use href="#sqs" x="1167.8" y="523.6"/><use href="#sqs" x="1168.7" y="524.5"/><use href="#sqs" x="1169.7" y="525.4"/><use href="#sqs" x="1170.6" y="526.3"/><use href="#sqs" x="1171.5" y="527.2"/><use href="#sqs" x="1172.5" y="528.1"/><use href="#sqs" x="1173.4" y="529.0"/><use href="#sqs" x="1174.3" y="529.9"/><use href="#sqs" x="1175.2" y="530.8"/><use href="#sqs" x="1176.1" y="531.7"/><use href="#sqs" x="1177.0" y="532.6"/><use href="#sqs" x="1177.9" y="533.4"/><use href="#sqs" x="1178.8" y="534.3"/><use href="#sqs" x="1179.7" y="535.2"/><use href="#sqs" x="1180.6" y="536.1"/><use href="#sqs" x="1181.5" y="537.0"/><use href="#sqs" x="1182.4" y="537.9"/><use href="#sqs" x="1183.2" y="538.8"/><use href="#sqs" x="1184.1" y="539.7"/><use href="#sqs" x="1185.0" y="540.6"/><use href="#sqs" x="1185.8" y="541.5"/><use href="#sqs" x="1186.7" y="542.4"/><use href="#sqs" x="1187.5" y="543.3"/><use href="#sqs" x="1188.4" y="544.2"/><use href="#sqs" x="1189.2" y="545.1"/><use href="#sqs" x="1190.1" y="546.0"/><use href="#sqs" x="1190.9" y="546.9"/><use href="#sqs" x="1191.7" y="547.8"/><use href="#sqs" x="1192.6" y="548.7"/><use href="#sqs" x="1193.4" y="549.6"/><use href="#sqs" x="1194.2" y="550.5"/><use href="#sqs" x="1195.0" y="551.4"/><use href="#sqs" x="1195.8" y="552.3"/><use href="#sqs" x="1196.7" y="553.2"/><use href="#sqs" x="1197.5" y="554.1"/><use href="#sqs" x="1198.3" y="555.0"/><use href="#sqs" x="1199.1" y="555.9"/><use href="#sqs" x="1199.9" y="556.8"/><use href="#sqs" x="1200.7" y="557.7"/><use href="#sqs" x="1201.5" y="558.6"/><use href="#sqs" x="1202.3" y="559.5"/><use href="#sqs" x="1203.0" y="560.4"/><use href="#sqs" x="1203.8" y="561.3"/><use href="#sqs" x="1204.6" y="562.2"/><use href="#sqs" x="1205.4" y="563.1"/><use href="#sqs" x="1206.2" y="564.0"/><use href="#sqs" x="1207.0" y="564.9"/><use href="#sqs" x="1207.7" y="565.8"/><use href="#sqs" x="1208.5" y="566.7"/><use href="#sqs" x="1209.3" y="567.6"/><use href="#sqs" x="1210.0" y="568.5"/><use href="#sqs" x="1210.8" y="569.4"/><use href="#sqs" x="1211.5" y="570.3"/><use href="#sqs" x="1212.3" y="571.2"/><use href="#sqs" x="1213.1" y="572.1"/><use href="#sqs" x="1213.8" y="573.0"/><use href="#sqs" x="1214.6" y="573.9"/><use href="#sqs" x="1215.3" y="574.8"/><use href="#sqs" x="1216.1" y="575.7"/><use href="#sqs" x="1216.8" y="576.6"/><use href="#sqs" x="1217.5" y="577.5"/><use href="#sqs" x="1218.3" y="578.4"/><use href="#sqs" x="1219.0" y="579.3"/><use href="#sqs" x="1219.3" y="579.6"/><use href="#sqs" x="1033.1" y="385.7"/><use href="#sqs" x="1036.2" y="385.3"/><use href="#sqs" x="1039.3" y="384.9"/><use href="#sqs" x="1042.3" y="384.5"/><use href="#sqs" x="1045.2" y="384.1"/><use href="#sqs" x="1048.0" y="383.5"/><use href="#sqs" x="1050.8" y="382.9"/><use href="#sqs" x="1053.5" y="382.2"/><use href="#sqs" x="1056.1" y="381.6"/><use href="#sqs" x="1058.7" y="380.9"/><use href="#sqs" x="1061.2" y="380.2"/><use href="#sqs" x="1063.6" y="379.2"/><use href="#sqs" x="1066.1" y="378.3"/><use href="#sqs" x="1068.4" y="377.4"/><use href="#sqs" x="1070.7" y="376.4"/><use href="#sqs" x="1073.0" y="375.5"/><use href="#sqs" x="1075.2" y="374.6"/><use href="#sqs" x="1077.4" y="373.7"/><use href="#sqs" x="1079.5" y="372.7"/><use href="#sqs" x="1081.6" y="371.8"/><use href="#sqs" x="1083.7" y="370.9"/><use href="#sqs" x="1085.7" y="369.9"/><use href="#sqs" x="1087.7" y="369.0"/><use href="#sqs" x="1089.6" y="368.1"/><use href="#sqs" x="1091.6" y="367.2"/><use href="#sqs" x="1093.4" y="366.2"/><use href="#sqs" x="1095.3" y="365.3"/><use href="#sqs" x="1097.1" y="364.4"/><use href="#sqs" x="1099.0" y="363.5"/><use href="#sqs" x="1100.7" y="362.5"/><use href="#sqs" x="1102.5" y="361.6"/><use href="#sqs" x="1104.2" y="360.6"/><use href="#sqs" x="1105.9" y="359.6"/><use href="#sqs" x="1107.6" y="358.7"/><use href="#sqs" x="1109.3" y="357.7"/><use href="#sqs" x="1110.9" y="356.7"/><use href="#sqs" x="1112.5" y="355.8"/><use href="#sqs" x="1114.1" y="354.8"/><use href="#sqs" x="1115.7" y="353.9"/><use href="#sqs" x="1117.3" y="352.9"/><use href="#sqs" x="1118.8" y="351.9"/><use href="#sqs" x="1120.3" y="351.0"/><use href="#sqs" x="1121.8" y="350.0"/><use href="#sqs" x="1123.3" y="349.1"/><use href="#sqs" x="1124.8" y="348.1"/><use href="#sqs" x="1126.3" y="347.1"/><use href="#sqs" x="1127.7" y="346.2"/><use href="#sqs" x="1129.1" y="345.2"/><use href="#sqs" x="1130.5" y="344.3"/><use href="#sqs" x="1131.9" y="343.3"/><use href="#sqs" x="1133.0" y="342.6"/><use href="#sqs" x="1219.3" y="578.6"/><use href="#sqs" x="1219.0" y="578.3"/><use href="#sqs" x="1218.3" y="577.4"/><use href="#sqs" x="1217.5" y="576.5"/><use href="#sqs" x="1216.8" y="575.6"/><use href="#sqs" x="1216.1" y="574.7"/><use href="#sqs" x="1215.3" y="573.8"/><use href="#sqs" x="1214.6" y="572.9"/><use href="#sqs" x="1213.8" y="572.0"/><use href="#sqs" x="1213.1" y="571.0"/><use href="#sqs" x="1212.3" y="570.1"/><use href="#sqs" x="1211.5" y="569.2"/><use href="#sqs" x="1210.8" y="568.3"/><use href="#sqs" x="1210.0" y="567.4"/><use href="#sqs" x="1209.3" y="566.5"/><use href="#sqs" x="1208.5" y="565.6"/><use href="#sqs" x="1207.7" y="564.7"/><use href="#sqs" x="1207.0" y="563.8"/><use href="#sqs" x="1206.2" y="562.9"/><use href="#sqs" x="1205.4" y="562.0"/><use href="#sqs" x="1204.6" y="561.1"/><use href="#sqs" x="1203.8" y="560.2"/><use href="#sqs" x="1203.0" y="559.3"/><use href="#sqs" x="1202.3" y="558.4"/><use href="#sqs" x="1201.5" y="557.5"/><use href="#sqs" x="1200.7" y="556.6"/><use href="#sqs" x="1199.9" y="555.7"/><use href="#sqs" x="1199.1" y="554.8"/><use href="#sqs" x="1198.3" y="553.9"/><use href="#sqs" x="1197.5" y="552.9"/><use href="#sqs" x="1196.7" y="552.0"/><use href="#sqs" x="1195.8" y="551.1"/><use href="#sqs" x="1195.0" y="550.2"/><use href="#sqs" x="1194.2" y="549.3"/><use href="#sqs" x="1193.4" y="548.4"/><use href="#sqs" x="1192.6" y="547.5"/><use href="#sqs" x="1191.7" y="546.6"/><use href="#sqs" x="1190.9" y="545.7"/><use href="#sqs" x="1190.1" y="544.8"/><use href="#sqs" x="1189.2" y="543.9"/><use href="#sqs" x="1188.4" y="543.0"/><use href="#sqs" x="1187.5" y="542.1"/><use href="#sqs" x="1186.7" y="541.2"/><use href="#sqs" x="1185.8" y="540.3"/><use href="#sqs" x="1185.0" y="539.4"/><use href="#sqs" x="1184.1" y="538.5"/><use href="#sqs" x="1183.2" y="537.6"/><use href="#sqs" x="1182.4" y="536.7"/><use href="#sqs" x="1181.5" y="535.8"/><use href="#sqs" x="1180.6" y="534.9"/><use href="#sqs" x="1179.7" y="534.0"/><use href="#sqs" x="1178.8" y="533.1"/><use href="#sqs" x="1177.9" y="532.1"/><use href="#sqs" x="1177.0" y="531.2"/><use href="#sqs" x="1176.1" y="530.3"/><use href="#sqs" x="1175.2" y="529.4"/><use href="#sqs" x="1174.3" y="528.5"/><use href="#sqs" x="1173.4" y="527.6"/><use href="#sqs" x="1172.5" y="526.7"/><use href="#sqs" x="1171.5" y="525.8"/><use href="#sqs" x="1170.6" y="524.9"/><use href="#sqs" x="1169.7" y="524.0"/><use href="#sqs" x="1168.7" y="523.1"/><use href="#sqs" x="1167.8" y="522.2"/><use href="#sqs" x="1166.8" y="521.3"/><use href="#sqs" x="1165.8" y="520.4"/><use href="#sqs" x="1164.9" y="519.5"/><use href="#sqs" x="1163.9" y="518.6"/><use href="#sqs" x="1162.9" y="517.7"/><use href="#sqs" x="1161.9" y="516.8"/><use href="#sqs" x="1160.9" y="515.9"/><use href="#sqs" x="1159.9" y="515.0"/><use href="#sqs" x="1158.9" y="514.1"/><use href="#sqs" x="1157.8" y="513.2"/><use href="#sqs" x="1156.8" y="512.2"/><use href="#sqs" x="1155.7" y="511.3"/><use href="#sqs" x="1154.7" y="510.4"/><use href="#sqs" x="1153.6" y="509.5"/><use href="#sqs" x="1152.6" y="508.6"/><use href="#sqs" x="1151.5" y="507.7"/><use href="#sqs" x="1150.4" y="506.8"/><use href="#sqs" x="1149.3" y="505.9"/><use href="#sqs" x="1148.2" y="505.0"/><use href="#sqs" x="1147.1" y="504.1"/><use href="#sqs" x="1146.0" y="503.2"/><use href="#sqs" x="1144.8" y="502.3"/><use href="#sqs" x="1143.7" y="501.4"/><use href="#sqs" x="1142.5" y="500.5"/><use href="#sqs" x="1141.3" y="499.6"/><use href="#sqs" x="1140.2" y="498.7"/><use href="#sqs" x="1139.0" y="497.8"/><use href="#sqs" x="1137.8" y="496.9"/><use href="#sqs" x="1136.5" y="496.0"/><use href="#sqs" x="1135.3" y="495.1"/><use href="#sqs" x="1134.1" y="494.2"/><use href="#sqs" x="1132.8" y="493.3"/><use href="#sqs" x="1131.5" y="492.4"/><use href="#sqs" x="1130.2" y="491.5"/><use href="#sqs" x="1128.9" y="490.6"/><use href="#sqs" x="1127.6" y="489.7"/><use href="#sqs" x="1126.3" y="488.8"/><use href="#sqs" x="1124.9" y="487.9"/><use href="#sqs" x="1123.5" y="487.0"/><use href="#sqs" x="1122.2" y="486.1"/><use href="#sqs" x="1120.8" y="485.2"/><use href="#sqs" x="1119.3" y="484.2"/><use href="#sqs" x="1117.9" y="483.3"/><use href="#sqs" x="1116.4" y="482.4"/><use href="#sqs" x="1115.0" y="481.5"/><use href="#sqs" x="1113.4" y="480.6"/><use href="#sqs" x="1111.9" y="479.7"/><use href="#sqs" x="1110.4" y="478.8"/><use href="#sqs" x="1108.8" y="477.9"/><use href="#sqs" x="1107.2" y="477.0"/><use href="#sqs" x="1105.6" y="476.1"/><use href="#sqs" x="1103.9" y="475.2"/><use href="#sqs" x="1102.3" y="474.3"/><use href="#sqs" x="1100.6" y="473.4"/><use href="#sqs" x="1098.8" y="472.5"/><use href="#sqs" x="1097.0" y="471.6"/><use href="#sqs" x="1095.2" y="470.7"/><use href="#sqs" x="1093.4" y="469.8"/><use href="#sqs" x="1091.5" y="468.9"/><use href="#sqs" x="1089.6" y="468.0"/><use href="#sqs" x="1087.6" y="467.1"/><use href="#sqs" x="1085.6" y="466.2"/><use href="#sqs" x="1083.6" y="465.3"/><use href="#sqs" x="1081.5" y="464.4"/><use href="#sqs" x="1079.3" y="463.5"/><use href="#sqs" x="1077.1" y="462.6"/><use href="#sqs" x="1074.9" y="461.7"/><use href="#sqs" x="1072.6" y="460.8"/><use href="#sqs" x="1070.2" y="459.9"/><use href="#sqs" x="1067.8" y="459.0"/><use href="#sqs" x="1065.3" y="458.1"/><use href="#sqs" x="1062.8" y="457.2"/><use href="#sqs" x="1060.2" y="456.3"/><use href="#sqs" x="1057.6" y="455.4"/><use href="#sqs" x="1054.8" y="454.5"/><use href="#sqs" x="1052.0" y="453.6"/><use href="#sqs" x="1049.2" y="452.7"/><use href="#sqs" x="1046.2" y="451.8"/><use href="#sqs" x="1043.3" y="450.9"/><use href="#sqs" x="1040.2" y="450.0"/><use href="#sqf" x="1035.0" y="448.4"/><use href="#sqf" x="1029.0" y="446.8"/><use href="#sqf" x="1022.2" y="445.0"/><use href="#sqf" x="1015.3" y="443.0"/><use href="#sqf" x="1007.6" y="441.0"/><use href="#sqf" x="999.5" y="438.9"/><use href="#sqf" x="991.0" y="436.9"/><use href="#sqf" x="982.0" y="434.9"/><use href="#sqf" x="972.0" y="433.6"/><use href="#sqf" x="961.0" y="432.3"/><use href="#sqf" x="949.0" y="431.0"/><use href="#sqf" x="936.0" y="429.8"/><use href="#sqf" x="920.0" y="428.6"/><use href="#sqf" x="903.4" y="427.2"/><use href="#sqf" x="884.0" y="426.2"/><use href="#sqf" x="859.0" y="425.3"/><use href="#sqf" x="826.0" y="425.2"/><use href="#sqf" x="781.0" y="425.3"/><use href="#sqf" x="707.9" y="419.4"/><use href="#sqf" x="632.8" y="419.4"/><use href="#sqf" x="236.7" y="417.5"/><use href="#sqf" x="781.0" y="414.5"/><use href="#sqf" x="826.0" y="413.2"/><use href="#sqf" x="857.2" y="411.0"/><use href="#sqf" x="882.1" y="410.0"/><use href="#sqf" x="902.0" y="408.1"/><use href="#sqf" x="920.0" y="406.6"/><use href="#sqf" x="933.6" y="405.0"/><use href="#sqf" x="945.8" y="403.4"/><use href="#sqf" x="956.7" y="402.2"/><use href="#sqf" x="966.5" y="400.8"/><use href="#sqf" x="975.5" y="399.0"/><use href="#sqf" x="983.5" y="397.5"/><use href="#sqf" x="991.2" y="395.2"/><use href="#sqf" x="999.0" y="393.4"/><use href="#sqf" x="1006.5" y="391.7"/><use href="#sqf" x="1013.2" y="390.1"/><use href="#sqf" x="1019.4" y="388.7"/><use href="#sqf" x="1024.9" y="387.3"/><use href="#sqf" x="1029.8" y="386.1"/><use href="#sqs" x="1033.1" y="385.2"/><use href="#sqs" x="1036.2" y="384.3"/><use href="#sqs" x="1039.3" y="383.4"/><use href="#sqs" x="1042.3" y="382.5"/><use href="#sqs" x="1045.2" y="381.6"/><use href="#sqs" x="1048.0" y="380.7"/><use href="#sqs" x="1050.8" y="379.8"/><use href="#sqs" x="1053.5" y="378.9"/><use href="#sqs" x="1056.1" y="378.0"/><use href="#sqs" x="1058.7" y="377.1"/><use href="#sqs" x="1061.2" y="376.2"/><use href="#sqs" x="1063.6" y="375.3"/><use href="#sqs" x="1066.1" y="374.4"/><use href="#sqs" x="1068.4" y="373.5"/><use href="#sqs" x="1070.7" y="372.6"/><use href="#sqs" x="1073.0" y="371.7"/><use href="#sqs" x="1075.2" y="370.8"/><use href="#sqs" x="1077.4" y="369.9"/><use href="#sqs" x="1079.5" y="369.0"/><use href="#sqs" x="1081.6" y="368.1"/><use href="#sqs" x="1083.7" y="367.2"/><use href="#sqs" x="1085.7" y="366.3"/><use href="#sqs" x="1087.7" y="365.4"/><use href="#sqs" x="1089.6" y="364.5"/><use href="#sqs" x="1091.6" y="363.6"/><use href="#sqs" x="1093.4" y="362.7"/><use href="#sqs" x="1095.3" y="361.8"/><use href="#sqs" x="1097.1" y="360.9"/><use href="#sqs" x="1099.0" y="360.0"/><use href="#sqs" x="1100.7" y="359.1"/><use href="#sqs" x="1102.5" y="358.2"/><use href="#sqs" x="1104.2" y="357.3"/><use href="#sqs" x="1105.9" y="356.4"/><use href="#sqs" x="1107.6" y="355.5"/><use href="#sqs" x="1109.3" y="354.6"/><use href="#sqs" x="1110.9" y="353.6"/><use href="#sqs" x="1112.5" y="352.7"/><use href="#sqs" x="1114.1" y="351.8"/><use href="#sqs" x="1115.7" y="350.9"/><use href="#sqs" x="1117.3" y="350.0"/><use href="#sqs" x="1118.8" y="349.1"/><use href="#sqs" x="1120.3" y="348.2"/><use href="#sqs" x="1121.8" y="347.3"/><use href="#sqs" x="1123.3" y="346.4"/><use href="#sqs" x="1124.8" y="345.5"/><use href="#sqs" x="1126.3" y="344.6"/><use href="#sqs" x="1127.7" y="343.7"/><use href="#sqs" x="1129.1" y="342.8"/><use href="#sqs" x="1130.5" y="341.9"/><use href="#sqs" x="1131.9" y="341.0"/><use href="#sqs" x="1133.0" y="340.3"/><polyline points="1257.0,409.1 1256.9,409.1 1255.0,407.5 1253.0,406.0 1251.0,404.4 1249.0,402.9 1247.0,401.3 1244.9,399.7 1242.9,398.2 1240.8,396.6 1238.7,395.1 1236.6,393.5 1234.5,391.9 1232.3,390.4 1230.1,388.8 1228.0,387.3 1225.7,385.7 1223.5,384.1 1221.3,382.6 1219.0,381.0 1216.7,379.5 1214.4,377.9 1212.1,376.4 1209.7,374.8 1207.3,373.3 1204.8,371.7 1202.3,370.1 1199.8,368.6 1197.3,367.0 1194.7,365.5 1192.1,363.9 1189.4,362.3 1186.7,360.8 1183.9,359.2 1181.2,357.7 1178.3,356.1 1175.4,354.6 1172.5,353.0 1169.5,351.5 1166.5,349.9 1163.4,348.4 1160.3,346.8 1157.1,345.2 1153.8,343.7 1150.5,342.1 1147.1,340.6 1143.7,339.0 1140.2,337.5 1136.6,335.9 1133.0,334.4 1129.3,332.8 1125.5,331.3 1121.7,329.7 1117.7,328.1 1113.7,326.6 1109.7,325.0 1105.5,323.5 1101.3,321.9 1097.0,320.4 1092.6,318.8 1088.2,317.3 1083.7,315.7 1079.1,314.2 1074.4,312.6 1069.7,311.1 1064.9,309.5 1060.0,308.0 1055.1,306.4 1050.2,304.8 1045.2,303.3 1040.2,301.7 1035.1,300.2 1030.0,298.6 1024.8,297.1 1019.6,295.5 1014.3,294.0 1008.9,292.4 1003.5,290.9 997.9,289.3 992.3,287.8 986.5,286.2 980.7,284.7 974.7,283.1 968.5,281.6 962.2,280.0 955.6,278.4 948.9,276.9 941.8,275.3 934.5,273.8 926.8,272.2 918.6,270.7 909.9,269.1 900.4,267.6 889.8,266.0 876.6,264.5 862.5,263.0 846.0,261.4 826.6,260.3 803.1,258.3 775.3,257.5 733.6,255.0 660.5,254.0 323.0,252.2 632.0,251.0 733.6,249.2 778.9,245.0 811.2,243.4 836.7,242.7 857.8,241.1 875.0,239.5 891.4,238.0 907.2,236.6 921.3,235.0 933.9,233.5 945.1,231.9 955.2,230.4 964.5,228.8 972.9,227.3 980.7,225.7 987.9,224.2 994.7,222.6 1001.0,221.1 1007.0,219.5 1012.7,218.0 1018.1,216.4 1023.3,214.9 1028.2,213.3 1032.9,211.8 1037.5,210.2 1041.8,208.6 1046.0,207.1 1050.1,205.5 1054.0,204.0 1057.8,202.4 1061.5,200.9 1065.1,199.3 1068.6,197.8 1072.0,196.2 1075.3,194.7 1078.6,193.1 1081.7,191.6 1084.8,190.0 1087.8,188.5 1090.8,186.9 1093.7,185.3 1096.5,183.8 1099.3,182.2 1102.0,180.7 1104.7,179.1 1107.3,177.6 1109.9,176.0 1112.4,174.5 1114.9,172.9 1117.3,171.4 1119.7,169.8 1122.1,168.2 1124.4,166.7 1126.7,165.1 1129.0,163.6 1131.2,162.0 1133.4,160.5 1135.6,158.9 1137.7,157.4 1139.8,155.8 1141.9,154.2 1144.0,152.7 1146.0,151.1 1148.0,149.6 1150.0,148.0 1151.9,146.5 1153.9,144.9 1155.8,143.3 1157.7,141.8 1159.5,140.2 1161.4,138.7 1163.2,137.1 1165.0,135.6 1166.8,134.0 1168.5,132.5 1170.3,130.9 1172.0,129.3 1173.7,127.8 1175.4,126.2 1177.1,124.7 1178.8,123.1 1180.4,121.5 1182.1,120.0 1183.7,118.4 1185.3,116.9 1186.9,115.3 1188.5,113.8 1190.0,112.2 1191.6,110.6 1193.1,109.1 1194.6,107.5 1196.1,106.0 1197.6,104.4 1199.1,102.9 1200.6,101.3 1202.1,99.7 1203.5,98.2 1205.0,96.6 1206.4,95.1 1207.8,93.5 1209.0,92.2" fill="none" stroke="#0a0a0a" stroke-width="3.0" stroke-linejoin="round" stroke-linecap="round"/><use href="#cird" x="918.6" y="271.0"/><use href="#cird" x="918.6" y="270.4"/><use href="#cird" x="926.8" y="272.6"/><use href="#cird" x="926.8" y="271.8"/><use href="#cird" x="934.5" y="274.3"/><use href="#cird" x="934.5" y="273.3"/><use href="#cird" x="941.8" y="275.9"/><use href="#cird" x="941.8" y="274.7"/><use href="#cird" x="948.9" y="277.5"/><use href="#cird" x="948.9" y="276.3"/><use href="#cird" x="955.6" y="279.0"/><use href="#cird" x="955.6" y="277.8"/><use href="#cird" x="962.2" y="280.6"/><use href="#cird" x="962.2" y="279.4"/><use href="#cird" x="968.5" y="282.2"/><use href="#cird" x="968.5" y="281.0"/><use href="#cird" x="974.7" y="283.7"/><use href="#cird" x="974.7" y="282.5"/><use href="#cird" x="980.7" y="285.3"/><use href="#cird" x="980.7" y="284.1"/><use href="#cird" x="986.5" y="286.8"/><use href="#cird" x="986.5" y="285.6"/><use href="#cird" x="992.3" y="288.4"/><use href="#cird" x="992.3" y="287.2"/><use href="#cird" x="997.9" y="289.9"/><use href="#cird" x="997.9" y="288.7"/><use href="#cird" x="1003.5" y="291.5"/><use href="#cird" x="1003.5" y="290.3"/><use href="#cird" x="1008.9" y="293.0"/><use href="#cird" x="1008.9" y="291.8"/><use href="#cird" x="1014.3" y="294.6"/><use href="#cird" x="1014.3" y="293.4"/><use href="#cird" x="1019.6" y="296.1"/><use href="#cird" x="1019.6" y="294.9"/><use href="#cird" x="1024.8" y="297.7"/><use href="#cird" x="1024.8" y="296.5"/><use href="#cird" x="1030.0" y="299.2"/><use href="#cird" x="1030.0" y="298.0"/><use href="#cird" x="1035.1" y="300.8"/><use href="#cird" x="1035.1" y="299.6"/><use href="#cird" x="1040.2" y="302.3"/><use href="#cird" x="1040.2" y="301.1"/><use href="#cird" x="1045.2" y="303.9"/><use href="#cird" x="1045.2" y="302.7"/><use href="#cird" x="1050.2" y="305.4"/><use href="#cird" x="1050.2" y="304.2"/><use href="#cird" x="1055.1" y="307.0"/><use href="#cird" x="1055.1" y="305.8"/><use href="#cird" x="1060.0" y="308.6"/><use href="#cird" x="1060.0" y="307.4"/><use href="#cird" x="1064.9" y="310.1"/><use href="#cird" x="1064.9" y="308.9"/><use href="#cird" x="1069.7" y="311.7"/><use href="#cird" x="1069.7" y="310.5"/><use href="#cird" x="1074.4" y="313.2"/><use href="#cird" x="1074.4" y="312.0"/><use href="#cird" x="1079.1" y="314.8"/><use href="#cird" x="1079.1" y="313.6"/><use href="#cird" x="1083.7" y="316.3"/><use href="#cird" x="1083.7" y="315.1"/><use href="#cird" x="1088.2" y="317.9"/><use href="#cird" x="1088.2" y="316.7"/><use href="#cird" x="1092.6" y="319.4"/><use href="#cird" x="1092.6" y="318.2"/><use href="#cird" x="1097.0" y="321.0"/><use href="#cird" x="1097.0" y="319.8"/><use href="#cird" x="1101.3" y="322.5"/><use href="#cird" x="1101.3" y="321.3"/><use href="#cird" x="1105.5" y="324.1"/><use href="#cird" x="1105.5" y="322.9"/><use href="#cird" x="1109.7" y="325.6"/><use href="#cird" x="1109.7" y="324.4"/><use href="#cird" x="1113.7" y="327.2"/><use href="#cird" x="1113.7" y="326.0"/><use href="#cird" x="1117.7" y="328.7"/><use href="#cird" x="1117.7" y="327.5"/><use href="#cird" x="1121.7" y="330.3"/><use href="#cird" x="1121.7" y="329.1"/><use href="#cird" x="1125.5" y="331.9"/><use href="#cird" x="1125.5" y="330.7"/><use href="#cird" x="1129.3" y="333.4"/><use href="#cird" x="1129.3" y="332.2"/><use href="#cird" x="1133.0" y="335.0"/><use href="#cird" x="1133.0" y="333.8"/><use href="#cird" x="1136.6" y="336.5"/><use href="#cird" x="1136.6" y="335.3"/><use href="#cird" x="1140.2" y="338.1"/><use href="#cird" x="1140.2" y="336.9"/><use href="#cird" x="1143.7" y="339.6"/><use href="#cird" x="1143.7" y="338.4"/><use href="#cird" x="1147.1" y="341.2"/><use href="#cird" x="1147.1" y="340.0"/><use href="#cird" x="1150.5" y="342.7"/><use href="#cird" x="1150.5" y="341.5"/><use href="#cird" x="1153.8" y="344.3"/><use href="#cird" x="1153.8" y="343.1"/><use href="#cird" x="1157.1" y="345.8"/><use href="#cird" x="1157.1" y="344.6"/><use href="#cird" x="1160.3" y="347.4"/><use href="#cird" x="1160.3" y="346.2"/><use href="#cird" x="1163.4" y="349.0"/><use href="#cird" x="1163.4" y="347.8"/><use href="#cird" x="1166.5" y="350.5"/><use href="#cird" x="1166.5" y="349.3"/><use href="#cird" x="1169.5" y="352.1"/><use href="#cird" x="1169.5" y="350.9"/><use href="#cird" x="1172.5" y="353.6"/><use href="#cird" x="1172.5" y="352.4"/><use href="#cird" x="1175.4" y="355.2"/><use href="#cird" x="1175.4" y="354.0"/><use href="#cird" x="1178.3" y="356.7"/><use href="#cird" x="1178.3" y="355.5"/><use href="#cird" x="1181.2" y="358.3"/><use href="#cird" x="1181.2" y="357.1"/><use href="#cird" x="1183.9" y="359.8"/><use href="#cird" x="1183.9" y="358.6"/><use href="#cird" x="1186.7" y="361.4"/><use href="#cird" x="1186.7" y="360.2"/><use href="#cird" x="1189.4" y="362.9"/><use href="#cird" x="1189.4" y="361.7"/><use href="#cird" x="1192.1" y="364.5"/><use href="#cird" x="1192.1" y="363.3"/><use href="#cird" x="1194.7" y="366.1"/><use href="#cird" x="1194.7" y="364.9"/><use href="#cird" x="1197.3" y="367.6"/><use href="#cird" x="1197.3" y="366.4"/><use href="#cird" x="1199.8" y="369.2"/><use href="#cird" x="1199.8" y="368.0"/><use href="#cird" x="1202.3" y="370.7"/><use href="#cird" x="1202.3" y="369.5"/><use href="#cird" x="1204.8" y="372.3"/><use href="#cird" x="1204.8" y="371.1"/><use href="#cird" x="1207.3" y="373.9"/><use href="#cird" x="1207.3" y="372.7"/><use href="#cird" x="1209.7" y="375.4"/><use href="#cird" x="1209.7" y="374.2"/><use href="#cird" x="1212.1" y="377.0"/><use href="#cird" x="1212.1" y="375.8"/><use href="#cird" x="1214.4" y="378.5"/><use href="#cird" x="1214.4" y="377.3"/><use href="#cird" x="1216.7" y="380.1"/><use href="#cird" x="1216.7" y="378.9"/><use href="#cird" x="1219.0" y="381.6"/><use href="#cird" x="1219.0" y="380.4"/><use href="#cird" x="1221.3" y="383.2"/><use href="#cird" x="1221.3" y="382.0"/><use href="#cird" x="1223.5" y="384.7"/><use href="#cird" x="1223.5" y="383.5"/><use href="#cird" x="1225.7" y="386.3"/><use href="#cird" x="1225.7" y="385.1"/><use href="#cird" x="1228.0" y="387.9"/><use href="#cird" x="1228.0" y="386.7"/><use href="#cird" x="1230.1" y="389.4"/><use href="#cird" x="1230.1" y="388.2"/><use href="#cird" x="1232.3" y="391.0"/><use href="#cird" x="1232.3" y="389.8"/><use href="#cird" x="1234.5" y="392.5"/><use href="#cird" x="1234.5" y="391.3"/><use href="#cird" x="1236.6" y="394.1"/><use href="#cird" x="1236.6" y="392.9"/><use href="#cird" x="1238.7" y="395.7"/><use href="#cird" x="1238.7" y="394.5"/><use href="#cird" x="1240.8" y="397.2"/><use href="#cird" x="1240.8" y="396.1"/><use href="#cird" x="1242.9" y="398.7"/><use href="#cird" x="1242.9" y="397.7"/><use href="#cird" x="1244.9" y="400.2"/><use href="#cird" x="1244.9" y="399.3"/><use href="#cird" x="1247.0" y="401.7"/><use href="#cird" x="1247.0" y="400.9"/><use href="#cird" x="1249.0" y="403.1"/><use href="#cird" x="1249.0" y="402.6"/><use href="#cird" x="1251.0" y="404.6"/><use href="#cird" x="1251.0" y="404.2"/><use href="#cird" x="921.3" y="235.4"/><use href="#cird" x="921.3" y="234.7"/><use href="#cird" x="933.9" y="234.0"/><use href="#cird" x="933.9" y="233.0"/><use href="#cird" x="945.1" y="232.5"/><use href="#cird" x="945.1" y="231.3"/><use href="#cird" x="955.2" y="231.0"/><use href="#cird" x="955.2" y="229.8"/><use href="#cird" x="964.5" y="229.4"/><use href="#cird" x="964.5" y="228.2"/><use href="#cird" x="972.9" y="227.9"/><use href="#cird" x="972.9" y="226.7"/><use href="#cird" x="980.7" y="226.3"/><use href="#cird" x="980.7" y="225.1"/><use href="#cird" x="987.9" y="224.8"/><use href="#cird" x="987.9" y="223.6"/><use href="#cird" x="994.7" y="223.2"/><use href="#cird" x="994.7" y="222.0"/><use href="#cird" x="1001.0" y="221.7"/><use href="#cird" x="1001.0" y="220.5"/><use href="#cird" x="1007.0" y="220.1"/><use href="#cird" x="1007.0" y="218.9"/><use href="#cird" x="1012.7" y="218.6"/><use href="#cird" x="1012.7" y="217.4"/><use href="#cird" x="1018.1" y="217.0"/><use href="#cird" x="1018.1" y="215.8"/><use href="#cird" x="1023.3" y="215.5"/><use href="#cird" x="1023.3" y="214.3"/><use href="#cird" x="1028.2" y="213.9"/><use href="#cird" x="1028.2" y="212.7"/><use href="#cird" x="1032.9" y="212.4"/><use href="#cird" x="1032.9" y="211.2"/><use href="#cird" x="1037.5" y="210.8"/><use href="#cird" x="1037.5" y="209.6"/><use href="#cird" x="1041.8" y="209.2"/><use href="#cird" x="1041.8" y="208.0"/><use href="#cird" x="1046.0" y="207.7"/><use href="#cird" x="1046.0" y="206.5"/><use href="#cird" x="1050.1" y="206.1"/><use href="#cird" x="1050.1" y="204.9"/><use href="#cird" x="1054.0" y="204.6"/><use href="#cird" x="1054.0" y="203.4"/><use href="#cird" x="1057.8" y="203.0"/><use href="#cird" x="1057.8" y="201.8"/><use href="#cird" x="1061.5" y="201.5"/><use href="#cird" x="1061.5" y="200.3"/><use href="#cird" x="1065.1" y="199.9"/><use href="#cird" x="1065.1" y="198.7"/><use href="#cird" x="1068.6" y="198.4"/><use href="#cird" x="1068.6" y="197.2"/><use href="#cird" x="1072.0" y="196.8"/><use href="#cird" x="1072.0" y="195.6"/><use href="#cird" x="1075.3" y="195.3"/><use href="#cird" x="1075.3" y="194.1"/><use href="#cird" x="1078.6" y="193.7"/><use href="#cird" x="1078.6" y="192.5"/><use href="#cird" x="1081.7" y="192.2"/><use href="#cird" x="1081.7" y="191.0"/><use href="#cird" x="1084.8" y="190.6"/><use href="#cird" x="1084.8" y="189.4"/><use href="#cird" x="1087.8" y="189.1"/><use href="#cird" x="1087.8" y="187.9"/><use href="#cird" x="1090.8" y="187.5"/><use href="#cird" x="1090.8" y="186.3"/><use href="#cird" x="1093.7" y="185.9"/><use href="#cird" x="1093.7" y="184.7"/><use href="#cird" x="1096.5" y="184.4"/><use href="#cird" x="1096.5" y="183.2"/><use href="#cird" x="1099.3" y="182.8"/><use href="#cird" x="1099.3" y="181.6"/><use href="#cird" x="1102.0" y="181.3"/><use href="#cird" x="1102.0" y="180.1"/><use href="#cird" x="1104.7" y="179.7"/><use href="#cird" x="1104.7" y="178.5"/><use href="#cird" x="1107.3" y="178.2"/><use href="#cird" x="1107.3" y="177.0"/><use href="#cird" x="1109.9" y="176.6"/><use href="#cird" x="1109.9" y="175.4"/><use href="#cird" x="1112.4" y="175.1"/><use href="#cird" x="1112.4" y="173.9"/><use href="#cird" x="1114.9" y="173.5"/><use href="#cird" x="1114.9" y="172.3"/><use href="#cird" x="1117.3" y="172.0"/><use href="#cird" x="1117.3" y="170.8"/><use href="#cird" x="1119.7" y="170.4"/><use href="#cird" x="1119.7" y="169.2"/><use href="#cird" x="1122.1" y="168.8"/><use href="#cird" x="1122.1" y="167.6"/><use href="#cird" x="1124.4" y="167.3"/><use href="#cird" x="1124.4" y="166.1"/><use href="#cird" x="1126.7" y="165.7"/><use href="#cird" x="1126.7" y="164.5"/><use href="#cird" x="1129.0" y="164.2"/><use href="#cird" x="1129.0" y="163.0"/><use href="#cird" x="1131.2" y="162.6"/><use href="#cird" x="1131.2" y="161.4"/><use href="#cird" x="1133.4" y="161.1"/><use href="#cird" x="1133.4" y="159.9"/><use href="#cird" x="1135.6" y="159.5"/><use href="#cird" x="1135.6" y="158.3"/><use href="#cird" x="1137.7" y="158.0"/><use href="#cird" x="1137.7" y="156.8"/><use href="#cird" x="1139.8" y="156.4"/><use href="#cird" x="1139.8" y="155.2"/><use href="#cird" x="1141.9" y="154.8"/><use href="#cird" x="1141.9" y="153.6"/><use href="#cird" x="1144.0" y="153.3"/><use href="#cird" x="1144.0" y="152.1"/><use href="#cird" x="1146.0" y="151.7"/><use href="#cird" x="1146.0" y="150.5"/><use href="#cird" x="1148.0" y="150.2"/><use href="#cird" x="1148.0" y="149.0"/><use href="#cird" x="1150.0" y="148.6"/><use href="#cird" x="1150.0" y="147.4"/><use href="#cird" x="1151.9" y="147.1"/><use href="#cird" x="1151.9" y="145.9"/><use href="#cird" x="1153.9" y="145.5"/><use href="#cird" x="1153.9" y="144.3"/><use href="#cird" x="1155.8" y="143.9"/><use href="#cird" x="1155.8" y="142.7"/><use href="#cird" x="1157.7" y="142.4"/><use href="#cird" x="1157.7" y="141.2"/><use href="#cird" x="1159.5" y="140.8"/><use href="#cird" x="1159.5" y="139.6"/><use href="#cird" x="1161.4" y="139.3"/><use href="#cird" x="1161.4" y="138.1"/><use href="#cird" x="1163.2" y="137.7"/><use href="#cird" x="1163.2" y="136.5"/><use href="#cird" x="1165.0" y="136.2"/><use href="#cird" x="1165.0" y="135.0"/><use href="#cird" x="1166.8" y="134.6"/><use href="#cird" x="1166.8" y="133.4"/><use href="#cird" x="1168.5" y="133.1"/><use href="#cird" x="1168.5" y="131.9"/><use href="#cird" x="1170.3" y="131.5"/><use href="#cird" x="1170.3" y="130.3"/><use href="#cird" x="1172.0" y="129.9"/><use href="#cird" x="1172.0" y="128.7"/><use href="#cird" x="1173.7" y="128.4"/><use href="#cird" x="1173.7" y="127.2"/><use href="#cird" x="1175.4" y="126.8"/><use href="#cird" x="1175.4" y="125.6"/><use href="#cird" x="1177.1" y="125.3"/><use href="#cird" x="1177.1" y="124.1"/><use href="#cird" x="1178.8" y="123.7"/><use href="#cird" x="1178.8" y="122.5"/><use href="#cird" x="1180.4" y="122.1"/><use href="#cird" x="1180.4" y="120.9"/><use href="#cird" x="1182.1" y="120.6"/><use href="#cird" x="1182.1" y="119.4"/><use href="#cird" x="1183.7" y="119.0"/><use href="#cird" x="1183.7" y="117.8"/><use href="#cird" x="1185.3" y="117.5"/><use href="#cird" x="1185.3" y="116.3"/><use href="#cird" x="1186.9" y="115.9"/><use href="#cird" x="1186.9" y="114.7"/><use href="#cird" x="1188.5" y="114.4"/><use href="#cird" x="1188.5" y="113.2"/><use href="#cird" x="1190.0" y="112.8"/><use href="#cird" x="1190.0" y="111.6"/><use href="#cird" x="1191.6" y="111.2"/><use href="#cird" x="1191.6" y="110.0"/><use href="#cird" x="1193.1" y="109.7"/><use href="#cird" x="1193.1" y="108.5"/><use href="#cird" x="1194.6" y="108.1"/><use href="#cird" x="1194.6" y="106.9"/><use href="#cird" x="1196.1" y="106.6"/><use href="#cird" x="1196.1" y="105.4"/><use href="#cird" x="1197.6" y="105.0"/><use href="#cird" x="1197.6" y="103.8"/><use href="#cird" x="1199.1" y="103.5"/><use href="#cird" x="1199.1" y="102.3"/><use href="#cird" x="1200.6" y="101.9"/><use href="#cird" x="1200.6" y="100.7"/><use href="#cird" x="1202.1" y="100.2"/><use href="#cird" x="1202.1" y="99.3"/><use href="#cird" x="1203.5" y="98.6"/><use href="#cird" x="1203.5" y="97.8"/><use href="#cird" x="1205.0" y="96.9"/><use href="#cird" x="1205.0" y="96.4"/><use href="#cird" x="1257.0" y="409.1"/><use href="#cird" x="1256.9" y="409.1"/><use href="#cird" x="1255.0" y="407.5"/><use href="#cird" x="1253.0" y="406.0"/><use href="#cird" x="1251.0" y="404.4"/><use href="#cird" x="1249.0" y="402.9"/><use href="#cird" x="1247.0" y="401.3"/><use href="#cird" x="1244.9" y="399.7"/><use href="#cird" x="1242.9" y="398.2"/><use href="#cird" x="1240.8" y="396.6"/><use href="#cird" x="1238.7" y="395.1"/><use href="#cird" x="1236.6" y="393.5"/><use href="#cird" x="1234.5" y="391.9"/><use href="#cird" x="1232.3" y="390.4"/><use href="#cird" x="1230.1" y="388.8"/><use href="#cird" x="1228.0" y="387.3"/><use href="#cird" x="1225.7" y="385.7"/><use href="#cird" x="1223.5" y="384.1"/><use href="#cird" x="1221.3" y="382.6"/><use href="#cird" x="1219.0" y="381.0"/><use href="#cird" x="1216.7" y="379.5"/><use href="#cird" x="1214.4" y="377.9"/><use href="#cird" x="1212.1" y="376.4"/><use href="#cird" x="1209.7" y="374.8"/><use href="#cird" x="1207.3" y="373.3"/><use href="#cird" x="1204.8" y="371.7"/><use href="#cird" x="1202.3" y="370.1"/><use href="#cird" x="1199.8" y="368.6"/><use href="#cird" x="1197.3" y="367.0"/><use href="#cird" x="1194.7" y="365.5"/><use href="#cird" x="1192.1" y="363.9"/><use href="#cird" x="1189.4" y="362.3"/><use href="#cird" x="1186.7" y="360.8"/><use href="#cird" x="1183.9" y="359.2"/><use href="#cird" x="1181.2" y="357.7"/><use href="#cird" x="1178.3" y="356.1"/><use href="#cird" x="1175.4" y="354.6"/><use href="#cird" x="1172.5" y="353.0"/><use href="#cird" x="1169.5" y="351.5"/><use href="#cird" x="1166.5" y="349.9"/><use href="#cird" x="1163.4" y="348.4"/><use href="#cird" x="1160.3" y="346.8"/><use href="#cird" x="1157.1" y="345.2"/><use href="#cird" x="1153.8" y="343.7"/><use href="#cird" x="1150.5" y="342.1"/><use href="#cird" x="1147.1" y="340.6"/><use href="#cird" x="1143.7" y="339.0"/><use href="#cird" x="1140.2" y="337.5"/><use href="#cird" x="1136.6" y="335.9"/><use href="#cird" x="1133.0" y="334.4"/><use href="#cird" x="1129.3" y="332.8"/><use href="#cird" x="1125.5" y="331.3"/><use href="#cird" x="1121.7" y="329.7"/><use href="#cird" x="1117.7" y="328.1"/><use href="#cird" x="1113.7" y="326.6"/><use href="#cird" x="1109.7" y="325.0"/><use href="#cird" x="1105.5" y="323.5"/><use href="#cird" x="1101.3" y="321.9"/><use href="#cird" x="1097.0" y="320.4"/><use href="#cird" x="1092.6" y="318.8"/><use href="#cird" x="1088.2" y="317.3"/><use href="#cird" x="1083.7" y="315.7"/><use href="#cird" x="1079.1" y="314.2"/><use href="#cird" x="1074.4" y="312.6"/><use href="#cird" x="1069.7" y="311.1"/><use href="#cird" x="1064.9" y="309.5"/><use href="#cird" x="1060.0" y="308.0"/><use href="#cird" x="1055.1" y="306.4"/><use href="#cird" x="1050.2" y="304.8"/><use href="#cird" x="1045.2" y="303.3"/><use href="#cird" x="1040.2" y="301.7"/><use href="#cird" x="1035.1" y="300.2"/><use href="#cird" x="1030.0" y="298.6"/><use href="#cird" x="1024.8" y="297.1"/><use href="#cird" x="1019.6" y="295.5"/><use href="#cird" x="1014.3" y="294.0"/><use href="#cird" x="1008.9" y="292.4"/><use href="#cird" x="1003.5" y="290.9"/><use href="#cird" x="997.9" y="289.3"/><use href="#cird" x="992.3" y="287.8"/><use href="#cird" x="986.5" y="286.2"/><use href="#cir" x="980.7" y="284.7"/><use href="#cir" x="974.7" y="283.1"/><use href="#cir" x="968.5" y="281.6"/><use href="#cir" x="962.2" y="280.0"/><use href="#cir" x="955.6" y="278.4"/><use href="#cir" x="948.9" y="276.9"/><use href="#cir" x="941.8" y="275.3"/><use href="#cir" x="934.5" y="273.8"/><use href="#cir" x="926.8" y="272.2"/><use href="#cir" x="918.6" y="270.7"/><use href="#cir" x="909.9" y="269.1"/><use href="#cir" x="900.4" y="267.6"/><use href="#cir" x="889.8" y="266.0"/><use href="#cir" x="876.6" y="264.5"/><use href="#cir" x="862.5" y="263.0"/><use href="#cir" x="846.0" y="261.4"/><use href="#cir" x="826.6" y="260.3"/><use href="#cir" x="803.1" y="258.3"/><use href="#cir" x="775.3" y="257.5"/><use href="#cir" x="733.6" y="255.0"/><use href="#cir" x="660.5" y="254.0"/><use href="#cir" x="323.0" y="252.2"/><use href="#cir" x="632.0" y="251.0"/><use href="#cir" x="733.6" y="249.2"/><use href="#cir" x="778.9" y="245.0"/><use href="#cir" x="811.2" y="243.4"/><use href="#cir" x="836.7" y="242.7"/><use href="#cir" x="857.8" y="241.1"/><use href="#cir" x="875.0" y="239.5"/><use href="#cir" x="891.4" y="238.0"/><use href="#cir" x="907.2" y="236.6"/><use href="#cir" x="921.3" y="235.0"/><use href="#cir" x="933.9" y="233.5"/><use href="#cir" x="945.1" y="231.9"/><use href="#cir" x="955.2" y="230.4"/><use href="#cir" x="964.5" y="228.8"/><use href="#cir" x="972.9" y="227.3"/><use href="#cir" x="980.7" y="225.7"/><use href="#cir" x="987.9" y="224.2"/><use href="#cir" x="994.7" y="222.6"/><use href="#cir" x="1001.0" y="221.1"/><use href="#cir" x="1007.0" y="219.5"/><use href="#cird" x="1012.7" y="218.0"/><use href="#cird" x="1018.1" y="216.4"/><use href="#cird" x="1023.3" y="214.9"/><use href="#cird" x="1028.2" y="213.3"/><use href="#cird" x="1032.9" y="211.8"/><use href="#cird" x="1037.5" y="210.2"/><use href="#cird" x="1041.8" y="208.6"/><use href="#cird" x="1046.0" y="207.1"/><use href="#cird" x="1050.1" y="205.5"/><use href="#cird" x="1054.0" y="204.0"/><use href="#cird" x="1057.8" y="202.4"/><use href="#cird" x="1061.5" y="200.9"/><use href="#cird" x="1065.1" y="199.3"/><use href="#cird" x="1068.6" y="197.8"/><use href="#cird" x="1072.0" y="196.2"/><use href="#cird" x="1075.3" y="194.7"/><use href="#cird" x="1078.6" y="193.1"/><use href="#cird" x="1081.7" y="191.6"/><use href="#cird" x="1084.8" y="190.0"/><use href="#cird" x="1087.8" y="188.5"/><use href="#cird" x="1090.8" y="186.9"/><use href="#cird" x="1093.7" y="185.3"/><use href="#cird" x="1096.5" y="183.8"/><use href="#cird" x="1099.3" y="182.2"/><use href="#cird" x="1102.0" y="180.7"/><use href="#cird" x="1104.7" y="179.1"/><use href="#cird" x="1107.3" y="177.6"/><use href="#cird" x="1109.9" y="176.0"/><use href="#cird" x="1112.4" y="174.5"/><use href="#cird" x="1114.9" y="172.9"/><use href="#cird" x="1117.3" y="171.4"/><use href="#cird" x="1119.7" y="169.8"/><use href="#cird" x="1122.1" y="168.2"/><use href="#cird" x="1124.4" y="166.7"/><use href="#cird" x="1126.7" y="165.1"/><use href="#cird" x="1129.0" y="163.6"/><use href="#cird" x="1131.2" y="162.0"/><use href="#cird" x="1133.4" y="160.5"/><use href="#cird" x="1135.6" y="158.9"/><use href="#cird" x="1137.7" y="157.4"/><use href="#cird" x="1139.8" y="155.8"/><use href="#cird" x="1141.9" y="154.2"/><use href="#cird" x="1144.0" y="152.7"/><use href="#cird" x="1146.0" y="151.1"/><use href="#cird" x="1148.0" y="149.6"/><use href="#cird" x="1150.0" y="148.0"/><use href="#cird" x="1151.9" y="146.5"/><use href="#cird" x="1153.9" y="144.9"/><use href="#cird" x="1155.8" y="143.3"/><use href="#cird" x="1157.7" y="141.8"/><use href="#cird" x="1159.5" y="140.2"/><use href="#cird" x="1161.4" y="138.7"/><use href="#cird" x="1163.2" y="137.1"/><use href="#cird" x="1165.0" y="135.6"/><use href="#cird" x="1166.8" y="134.0"/><use href="#cird" x="1168.5" y="132.5"/><use href="#cird" x="1170.3" y="130.9"/><use href="#cird" x="1172.0" y="129.3"/><use href="#cird" x="1173.7" y="127.8"/><use href="#cird" x="1175.4" y="126.2"/><use href="#cird" x="1177.1" y="124.7"/><use href="#cird" x="1178.8" y="123.1"/><use href="#cird" x="1180.4" y="121.5"/><use href="#cird" x="1182.1" y="120.0"/><use href="#cird" x="1183.7" y="118.4"/><use href="#cird" x="1185.3" y="116.9"/><use href="#cird" x="1186.9" y="115.3"/><use href="#cird" x="1188.5" y="113.8"/><use href="#cird" x="1190.0" y="112.2"/><use href="#cird" x="1191.6" y="110.6"/><use href="#cird" x="1193.1" y="109.1"/><use href="#cird" x="1194.6" y="107.5"/><use href="#cird" x="1196.1" y="106.0"/><use href="#cird" x="1197.6" y="104.4"/><use href="#cird" x="1199.1" y="102.9"/><use href="#cird" x="1200.6" y="101.3"/><use href="#cird" x="1202.1" y="99.7"/><use href="#cird" x="1203.5" y="98.2"/><use href="#cird" x="1205.0" y="96.6"/><use href="#cird" x="1206.4" y="95.1"/><use href="#cird" x="1207.8" y="93.5"/><use href="#cir" x="1209.0" y="92.2"/><rect x="160.2" y="35.8" width="389.5" height="143.2" fill="#fff" stroke="#3c3c3c" stroke-width="2.2"/><line x1="174.2" y1="64.6" x2="237.4" y2="64.6" stroke="#9a1c2a" stroke-width="2.8"/><use href="#tri" x="206" y="64.6"/><line x1="174.2" y1="107.0" x2="237.4" y2="107.0" stroke="#c98a45" stroke-width="2.8"/><use href="#sql" x="206" y="107.0"/><line x1="174.2" y1="150.7" x2="237.4" y2="150.7" stroke="#0a0a0a" stroke-width="2.8"/><use href="#cir" x="206" y="150.7"/><text x="97.45" y="24.30" font-size="31.2" textLength="14.46" lengthAdjust="spacingAndGlyphs">1</text><text x="71.07" y="186.20" font-size="31.2" textLength="41.55" lengthAdjust="spacingAndGlyphs">0.5</text><text x="97.02" y="345.60" font-size="31.2" textLength="16.01" lengthAdjust="spacingAndGlyphs">0</text><text x="70.14" y="506.50" font-size="31.2" textLength="42.30" lengthAdjust="spacingAndGlyphs">0.5</text><text x="97.30" y="665.40" font-size="31.2" textLength="15.31" lengthAdjust="spacingAndGlyphs">1</text><text x="254.47" y="688.40" font-size="31.2" textLength="16.63" lengthAdjust="spacingAndGlyphs">6</text><text x="506.84" y="688.40" font-size="31.2" textLength="15.72" lengthAdjust="spacingAndGlyphs">5</text><text x="759.40" y="688.40" font-size="31.2" textLength="12.48" lengthAdjust="spacingAndGlyphs">4</text><text x="1010.85" y="688.40" font-size="31.2" textLength="16.14" lengthAdjust="spacingAndGlyphs">3</text><text x="1262.67" y="688.40" font-size="31.2" textLength="15.29" lengthAdjust="spacingAndGlyphs">2</text><text x="593.68" y="739.60" font-size="30.5" textLength="40.22" lengthAdjust="spacingAndGlyphs">log</text><text x="646.41" y="739.60" font-size="30.5" textLength="6.67" lengthAdjust="spacingAndGlyphs">i</text><text x="665.74" y="740.30" font-size="33" textLength="10.74" lengthAdjust="spacingAndGlyphs">(</text><text x="681.42" y="739.60" font-size="30.5" font-style="italic" textLength="18.37" lengthAdjust="spacingAndGlyphs">A</text><text x="718.14" y="739.60" font-size="30.5" font-style="italic" textLength="41.20" lengthAdjust="spacingAndGlyphs">cm</text><text x="761.19" y="727.30" font-size="20.5" textLength="13.45" lengthAdjust="spacingAndGlyphs">2</text><text x="777.55" y="740.30" font-size="33" textLength="8.28" lengthAdjust="spacingAndGlyphs">)</text><text x="248.03" y="73.00" font-size="30.5" textLength="38.89" lengthAdjust="spacingAndGlyphs">0.1</text><text x="303.00" y="73.00" font-size="30.5" textLength="31.76" lengthAdjust="spacingAndGlyphs">wt</text><text x="349.66" y="73.00" font-size="30.5" textLength="23.95" lengthAdjust="spacingAndGlyphs">&#37;</text><text x="387.04" y="73.00" font-size="30.5" textLength="21.22" lengthAdjust="spacingAndGlyphs">H</text><text x="409.94" y="77.50" font-size="20.5" textLength="12.94" lengthAdjust="spacingAndGlyphs">2</text><text x="424.27" y="73.00" font-size="30.5" textLength="23.39" lengthAdjust="spacingAndGlyphs">O</text><text x="449.26" y="77.50" font-size="20.5" textLength="13.71" lengthAdjust="spacingAndGlyphs">2</text><text x="474.08" y="73.00" font-size="30.5" textLength="24.27" lengthAdjust="spacingAndGlyphs">+</text><text x="510.21" y="73.00" font-size="30.5" textLength="19.72" lengthAdjust="spacingAndGlyphs">Z</text><text x="261.27" y="114.80" font-size="30.5" textLength="13.48" lengthAdjust="spacingAndGlyphs">1</text><text x="289.80" y="114.80" font-size="30.5" textLength="31.76" lengthAdjust="spacingAndGlyphs">wt</text><text x="336.46" y="114.80" font-size="30.5" textLength="23.95" lengthAdjust="spacingAndGlyphs">&#37;</text><text x="373.84" y="114.80" font-size="30.5" textLength="21.22" lengthAdjust="spacingAndGlyphs">H</text><text x="396.74" y="119.30" font-size="20.5" textLength="12.94" lengthAdjust="spacingAndGlyphs">2</text><text x="411.07" y="114.80" font-size="30.5" textLength="23.39" lengthAdjust="spacingAndGlyphs">O</text><text x="436.06" y="119.30" font-size="20.5" textLength="13.71" lengthAdjust="spacingAndGlyphs">2</text><text x="460.88" y="114.80" font-size="30.5" textLength="24.27" lengthAdjust="spacingAndGlyphs">+</text><text x="497.01" y="114.80" font-size="30.5" textLength="19.72" lengthAdjust="spacingAndGlyphs">Z</text><text x="260.61" y="158.40" font-size="30.5" textLength="16.43" lengthAdjust="spacingAndGlyphs">5</text><text x="289.80" y="158.40" font-size="30.5" textLength="31.76" lengthAdjust="spacingAndGlyphs">wt</text><text x="336.46" y="158.40" font-size="30.5" textLength="23.95" lengthAdjust="spacingAndGlyphs">&#37;</text><text x="373.84" y="158.40" font-size="30.5" textLength="21.22" lengthAdjust="spacingAndGlyphs">H</text><text x="396.74" y="162.90" font-size="20.5" textLength="12.94" lengthAdjust="spacingAndGlyphs">2</text><text x="411.07" y="158.40" font-size="30.5" textLength="23.39" lengthAdjust="spacingAndGlyphs">O</text><text x="436.06" y="162.90" font-size="20.5" textLength="13.71" lengthAdjust="spacingAndGlyphs">2</text><text x="460.88" y="158.40" font-size="30.5" textLength="24.27" lengthAdjust="spacingAndGlyphs">+</text><text x="497.01" y="158.40" font-size="30.5" textLength="19.72" lengthAdjust="spacingAndGlyphs">Z</text><rect x="49.70" y="497.65" width="17.50" height="1.90" fill="#383838"/><rect x="74.50" y="657.95" width="18.80" height="1.90" fill="#383838"/><rect x="232.70" y="679.85" width="18.10" height="1.90" fill="#383838"/><rect x="485.50" y="679.85" width="18.10" height="1.90" fill="#383838"/><rect x="736.50" y="679.85" width="18.10" height="1.90" fill="#383838"/><rect x="988.70" y="679.85" width="18.10" height="1.90" fill="#383838"/><rect x="1239.40" y="679.85" width="18.10" height="1.90" fill="#383838"/><line x1="705.2" y1="746.2" x2="715.2" y2="717.8" stroke="#383838" stroke-width="1.8"/><text transform="translate(28.3,431.9) rotate(-90)" x="-1.14" y="0" font-size="31.5" textLength="195.13" lengthAdjust="spacingAndGlyphs">E (V vs SCE)</text></svg></body></html>
